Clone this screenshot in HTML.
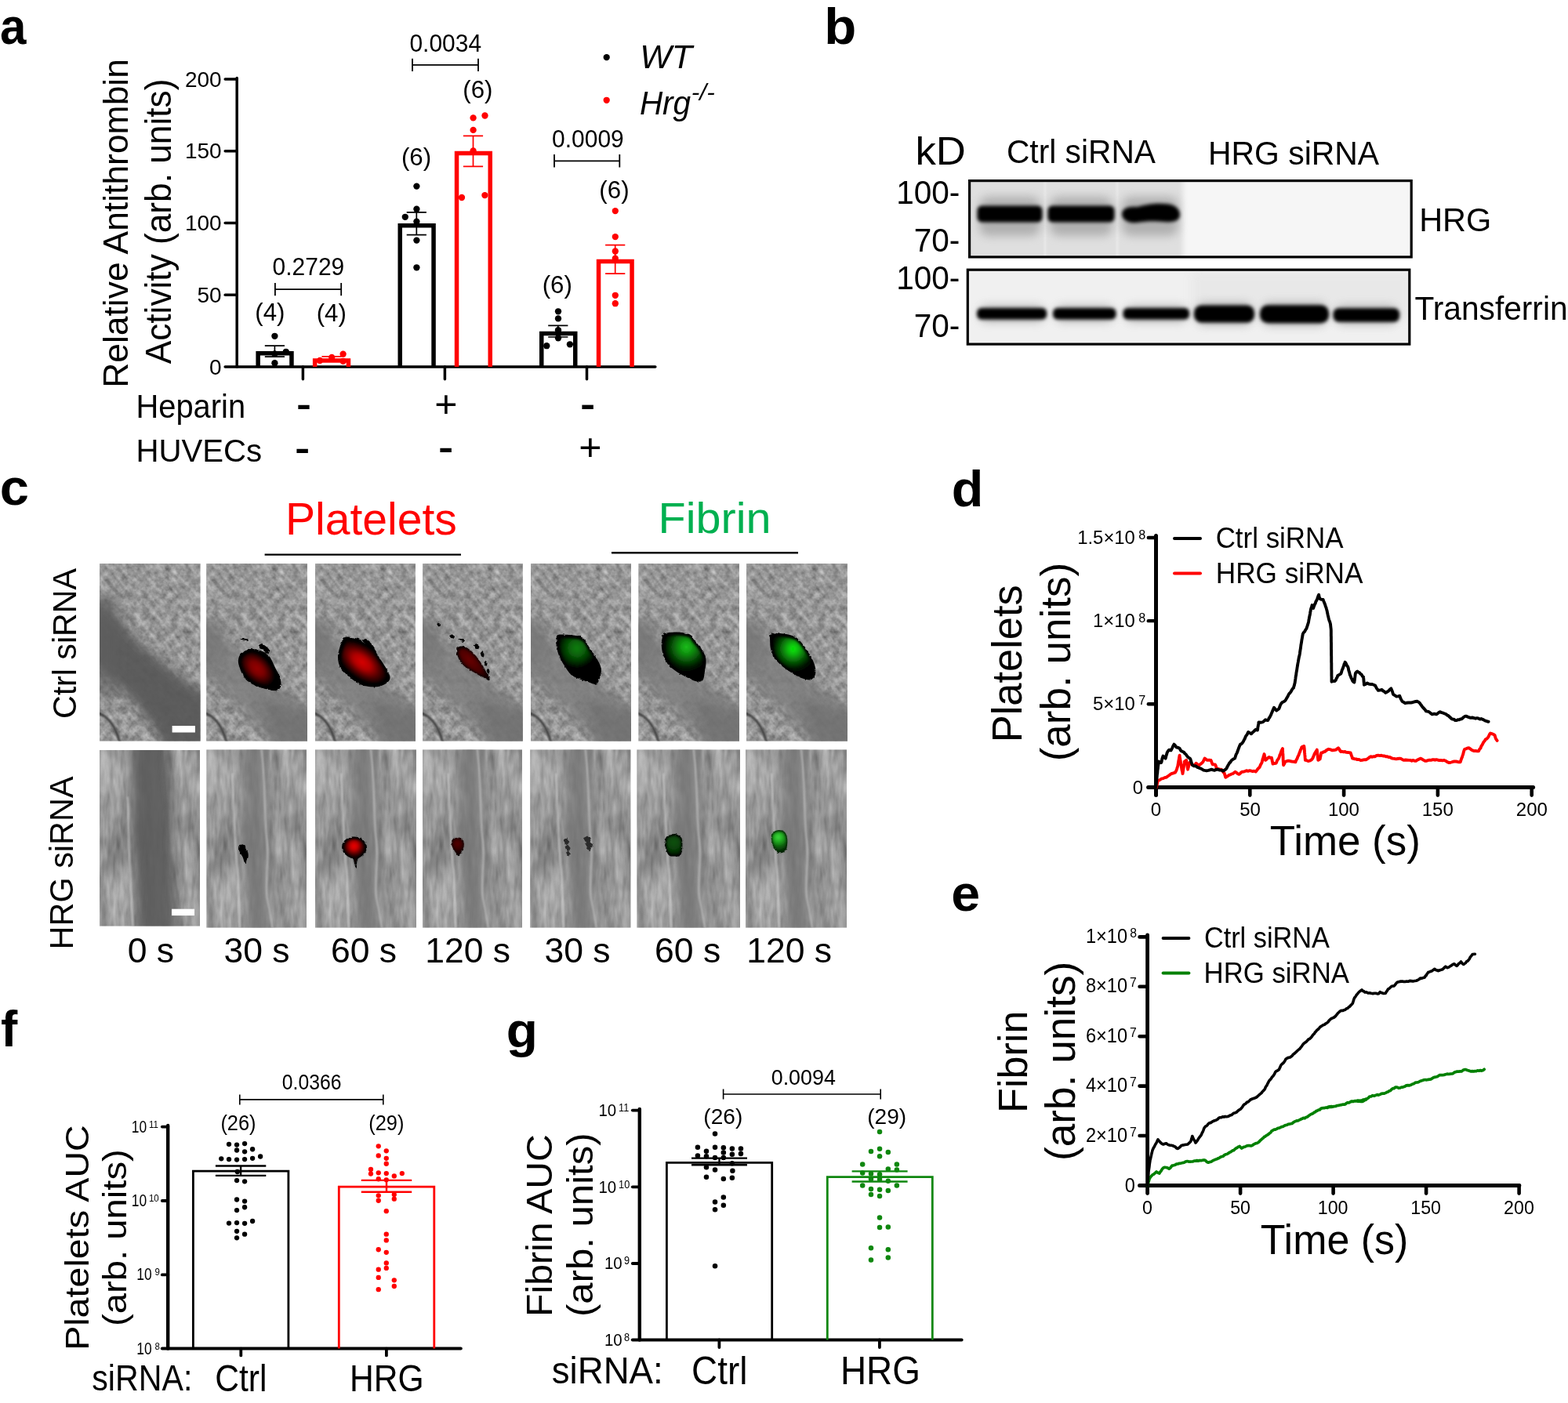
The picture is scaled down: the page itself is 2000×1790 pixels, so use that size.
<!DOCTYPE html>
<html lang="en">
<head>
<meta charset="utf-8">
<title>Figure: HRG regulates antithrombin activity, platelet and fibrin accumulation</title>
<style>
html,body{margin:0;padding:0;background:#fff;}
body{width:2000px;height:1790px;overflow:hidden;}
svg{display:block;}
svg text{font-family:"Liberation Sans",Arial,Helvetica,sans-serif;}
</style>
</head>
<body>
<svg width="2000" height="1790" viewBox="0 0 2000 1790">
<defs>
<clipPath id="clipB1"><rect x="1236.6" y="230.6" width="563.6" height="97.3"/></clipPath>
<clipPath id="clipB2"><rect x="1234.3" y="344.2" width="563.5" height="94.9"/></clipPath>
<filter id="blur1" x="-100%" y="-20%" width="300%" height="140%"><feGaussianBlur stdDeviation="1.2"/></filter>
<filter id="blur25" x="-20%" y="-60%" width="140%" height="220%"><feGaussianBlur stdDeviation="2.3"/></filter>
<filter id="blur3" x="-20%" y="-20%" width="140%" height="140%"><feGaussianBlur stdDeviation="3"/></filter>
<filter id="blur6" x="-20%" y="-80%" width="140%" height="260%"><feGaussianBlur stdDeviation="6"/></filter>
<filter id="nzA" x="0" y="0" width="100%" height="100%" filterUnits="objectBoundingBox" color-interpolation-filters="sRGB"><feTurbulence type="fractalNoise" baseFrequency="0.11" numOctaves="3" seed="7"/><feColorMatrix type="matrix" values="0.56 0 0 0 0.355  0.56 0 0 0 0.355  0.56 0 0 0 0.355  0 0 0 0 1"/></filter>
<filter id="nzAs" x="0" y="0" width="100%" height="100%" filterUnits="objectBoundingBox" color-interpolation-filters="sRGB"><feTurbulence type="fractalNoise" baseFrequency="0.018 0.2" numOctaves="2" seed="11"/><feColorMatrix type="matrix" values="0.9 0 0 0 0.05  0.9 0 0 0 0.05  0.9 0 0 0 0.05  0 0 0 0 1"/></filter>
<filter id="nzB" x="0" y="0" width="100%" height="100%" filterUnits="objectBoundingBox" color-interpolation-filters="sRGB"><feTurbulence type="fractalNoise" baseFrequency="0.075 0.013" numOctaves="3" seed="5"/><feColorMatrix type="matrix" values="0.5 0 0 0 0.385  0.5 0 0 0 0.385  0.5 0 0 0 0.385  0 0 0 0 1"/></filter>
<filter id="nzB2" x="0" y="0" width="100%" height="100%" filterUnits="objectBoundingBox" color-interpolation-filters="sRGB"><feTurbulence type="fractalNoise" baseFrequency="0.045" numOctaves="2" seed="21"/><feColorMatrix type="matrix" values="0.8 0 0 0 0.1  0.8 0 0 0 0.1  0.8 0 0 0 0.1  0 0 0 0 1"/></filter>
<filter id="nzB3" x="0" y="0" width="100%" height="100%" filterUnits="objectBoundingBox" color-interpolation-filters="sRGB"><feTurbulence type="fractalNoise" baseFrequency="0.22 0.05" numOctaves="2" seed="9"/><feColorMatrix type="matrix" values="0.9 0 0 0 0.05  0.9 0 0 0 0.05  0.9 0 0 0 0.05  0 0 0 0 1"/></filter>
<filter id="nzA3" x="0" y="0" width="100%" height="100%" filterUnits="objectBoundingBox" color-interpolation-filters="sRGB"><feTurbulence type="fractalNoise" baseFrequency="0.3" numOctaves="2" seed="4"/><feColorMatrix type="matrix" values="0.9 0 0 0 0.05  0.9 0 0 0 0.05  0.9 0 0 0 0.05  0 0 0 0 1"/></filter>
<filter id="rough" x="-10%" y="-10%" width="120%" height="120%"><feTurbulence type="fractalNoise" baseFrequency="0.35" numOctaves="1" seed="3" result="n"/><feDisplacementMap in="SourceGraphic" in2="n" scale="3.2" xChannelSelector="R" yChannelSelector="G"/><feGaussianBlur stdDeviation="0.55"/></filter>
<filter id="cb8" x="-30%" y="-30%" width="160%" height="160%"><feGaussianBlur stdDeviation="7"/></filter>
<filter id="cb4" x="-30%" y="-30%" width="160%" height="160%"><feGaussianBlur stdDeviation="4"/></filter>
<filter id="cb1" x="-30%" y="-30%" width="160%" height="160%"><feGaussianBlur stdDeviation="0.9"/></filter>
<filter id="cb15" x="-30%" y="-30%" width="160%" height="160%"><feGaussianBlur stdDeviation="1.6"/></filter>
<clipPath id="cImg"><rect x="0" y="0" width="128.5" height="227"/></clipPath>
<radialGradient id="gR1" gradientUnits="userSpaceOnUse" cx="64.5" cy="134" r="19" gradientTransform="translate(64.5 134) rotate(45) scale(1.4 0.85) translate(-64.5 -134)"><stop offset="0" stop-color="#960000"/><stop offset="0.4" stop-color="#7a0000"/><stop offset="0.75" stop-color="#360000"/><stop offset="1" stop-color="#000"/></radialGradient>
<radialGradient id="gR2" gradientUnits="userSpaceOnUse" cx="60" cy="126" r="25" gradientTransform="translate(60 126) rotate(38) scale(1.5 0.8) translate(-60 -126)"><stop offset="0" stop-color="#d80000"/><stop offset="0.35" stop-color="#b00000"/><stop offset="0.7" stop-color="#4c0000"/><stop offset="1" stop-color="#000"/></radialGradient>
<radialGradient id="gR3" gradientUnits="userSpaceOnUse" cx="60" cy="123" r="22" gradientTransform="translate(60 123) rotate(45) scale(1.5 0.6) translate(-60 -123)"><stop offset="0" stop-color="#6a0000"/><stop offset="0.6" stop-color="#440000"/><stop offset="1" stop-color="#080000"/></radialGradient>
<radialGradient id="gR4" gradientUnits="userSpaceOnUse" cx="49.4" cy="123.0" r="13.5"><stop offset="0" stop-color="#f00000"/><stop offset="0.35" stop-color="#c40000"/><stop offset="0.72" stop-color="#540000"/><stop offset="1" stop-color="#0c0000"/></radialGradient>
<radialGradient id="gR5" gradientUnits="userSpaceOnUse" cx="45" cy="120" r="11"><stop offset="0" stop-color="#560000"/><stop offset="0.7" stop-color="#300000"/><stop offset="1" stop-color="#080000"/></radialGradient>
<radialGradient id="gG1" gradientUnits="userSpaceOnUse" cx="59" cy="108" r="30"><stop offset="0" stop-color="#0b7e0b"/><stop offset="0.3" stop-color="#086208"/><stop offset="0.6" stop-color="#033003"/><stop offset="0.85" stop-color="#000"/></radialGradient>
<radialGradient id="gG2" gradientUnits="userSpaceOnUse" cx="61" cy="106.5" r="33"><stop offset="0" stop-color="#1cc01c"/><stop offset="0.28" stop-color="#0f900f"/><stop offset="0.55" stop-color="#075007"/><stop offset="0.82" stop-color="#001000"/><stop offset="1" stop-color="#000"/></radialGradient>
<radialGradient id="gG3" gradientUnits="userSpaceOnUse" cx="59.5" cy="109" r="31"><stop offset="0" stop-color="#04ea04"/><stop offset="0.22" stop-color="#0cba0c"/><stop offset="0.5" stop-color="#076607"/><stop offset="0.8" stop-color="#011401"/><stop offset="1" stop-color="#000"/></radialGradient>
<radialGradient id="gG4" gradientUnits="userSpaceOnUse" cx="46" cy="118" r="17"><stop offset="0" stop-color="#0a520a"/><stop offset="0.6" stop-color="#063a06"/><stop offset="1" stop-color="#001000"/></radialGradient>
<radialGradient id="gG5" gradientUnits="userSpaceOnUse" cx="41.5" cy="111.5" r="17"><stop offset="0" stop-color="#3ee03e"/><stop offset="0.35" stop-color="#20a820"/><stop offset="0.75" stop-color="#0a560a"/><stop offset="1" stop-color="#053005"/></radialGradient>
</defs>
<rect width="2000" height="1790" fill="#fff"/>
<g id="panel-a">
<text transform="translate(0.1 56.45) scale(0.9190 1)" font-size="65.39" font-weight="bold">a</text>
<text transform="translate(162.95 494.87) rotate(-90) scale(0.9836 1)" font-size="45.17">Relative Antithrombin</text>
<text transform="translate(218.39 464.31) rotate(-90) scale(0.9550 1)" font-size="46.33">Activity (arb. units)</text>
<g stroke="#000" fill="none">
<line x1="302.2" y1="99.6" x2="302.2" y2="468" stroke-width="3.5" stroke-linecap="round"/>
<line x1="287.2" y1="468" x2="835.8" y2="468" stroke-width="3.6" stroke-linecap="round"/>
<line x1="287.2" y1="376.27" x2="302.2" y2="376.27" stroke-width="3.5" stroke-linecap="round"/>
<line x1="287.2" y1="284.55" x2="302.2" y2="284.55" stroke-width="3.5" stroke-linecap="round"/>
<line x1="287.2" y1="192.83" x2="302.2" y2="192.83" stroke-width="3.5" stroke-linecap="round"/>
<line x1="287.2" y1="101.1" x2="302.2" y2="101.1" stroke-width="3.5" stroke-linecap="round"/>
<line x1="386.4" y1="468" x2="386.4" y2="483.8" stroke-width="3.5" stroke-linecap="round"/>
<line x1="567.4" y1="468" x2="567.4" y2="483.8" stroke-width="3.5" stroke-linecap="round"/>
<line x1="748.5" y1="468" x2="748.5" y2="483.8" stroke-width="3.5" stroke-linecap="round"/>
<path d="M329.15 468V450.75H371.95V468" fill="none" stroke-width="5.5"/>
<path d="M401.65 468V460.05H444.45V468" fill="none" stroke-width="5.5" stroke="#ff0000"/>
<path d="M510.25 468V287.85H553.05V468" fill="none" stroke-width="5.5"/>
<path d="M582.55 468V195.55H625.25V468" fill="none" stroke-width="5.5" stroke="#ff0000"/>
<path d="M690.75 468V425.55H733.75V468" fill="none" stroke-width="5.5"/>
<path d="M763.55 468V333.45H806.05V468" fill="none" stroke-width="5.5" stroke="#ff0000"/>
<path d="M337.8 441.1H363M337.8 455.2H363M350.4 441.1V455.2" fill="none" stroke-width="1.7"/>
<path d="M410.4 454.9H435.6M410.4 459.6H435.6M423 454.9V459.6" fill="none" stroke-width="1.7" stroke="#ff0000"/>
<path d="M518.7 270.9H543.9M518.7 299.7H543.9M531.3 270.9V299.7" fill="none" stroke-width="1.7"/>
<path d="M590.9 173.3H616.1M590.9 212.3H616.1M603.5 173.3V212.3" fill="none" stroke-width="1.7" stroke="#ff0000"/>
<path d="M699.2 415.4H724.4M699.2 430H724.4M711.8 415.4V430" fill="none" stroke-width="1.7"/>
<path d="M772.1 312.6H797.3M772.1 349.1H797.3M784.7 312.6V349.1" fill="none" stroke-width="1.7" stroke="#ff0000"/>
<path d="M350.9 369.1H435.2M350.9 360.9V377.3M435.2 360.9V377.3" fill="none" stroke-width="1.8"/>
<path d="M526 82.9H610M526 74.7V91.1M610 74.7V91.1" fill="none" stroke-width="1.8"/>
<path d="M707 205.3H790.3M707 197.1V213.5M790.3 197.1V213.5" fill="none" stroke-width="1.8"/>
</g>
<g><circle cx="350.4" cy="428.8" r="4.15"/><circle cx="364.8" cy="448.8" r="4.15"/><circle cx="350.4" cy="463.2" r="4.15"/><circle cx="350.4" cy="451.5" r="4.15"/><circle cx="531.4" cy="237.6" r="4.15"/><circle cx="531.4" cy="266.7" r="4.15"/><circle cx="516.8" cy="276.8" r="4.15"/><circle cx="531.4" cy="282.7" r="4.15"/><circle cx="531.4" cy="306.6" r="4.15"/><circle cx="531.4" cy="341.3" r="4.15"/><circle cx="712" cy="397.3" r="4.15"/><circle cx="712" cy="406.4" r="4.15"/><circle cx="712" cy="421.2" r="4.15"/><circle cx="712" cy="431.3" r="4.15"/><circle cx="697.3" cy="441.2" r="4.15"/><circle cx="726.9" cy="439.3" r="4.15"/><circle cx="773.7" cy="73.1" r="4.15"/></g>
<g fill="#ff0000"><circle cx="437.6" cy="451.7" r="4.15"/><circle cx="423.2" cy="456" r="4.15"/><circle cx="408" cy="460" r="4.15"/><circle cx="437.6" cy="460.8" r="4.15"/><circle cx="603.6" cy="150.4" r="4.15"/><circle cx="618.5" cy="147.5" r="4.15"/><circle cx="603.6" cy="165.9" r="4.15"/><circle cx="603.6" cy="192.5" r="4.15"/><circle cx="589" cy="252" r="4.15"/><circle cx="618.4" cy="249.1" r="4.15"/><circle cx="784.8" cy="269.1" r="4.15"/><circle cx="784.8" cy="302.1" r="4.15"/><circle cx="784.8" cy="320.5" r="4.15"/><circle cx="784.8" cy="329.6" r="4.15"/><circle cx="784.8" cy="376.8" r="4.15"/><circle cx="784.8" cy="387.2" r="4.15"/><circle cx="773.7" cy="127.8" r="4.15"/></g>
<text transform="translate(267.09 477.62) scale(1.0121 1)" font-size="27.7">0</text>
<text transform="translate(251.53 385.9) scale(1.0121 1)" font-size="27.7">50</text>
<text transform="translate(235.9 294.17) scale(1.0121 1)" font-size="27.7">100</text>
<text transform="translate(235.9 202.45) scale(1.0121 1)" font-size="27.7">150</text>
<text transform="translate(235.9 110.72) scale(1.0121 1)" font-size="27.7">200</text>
<text transform="translate(347.61 351.09) scale(0.9637 1)" font-size="31.1">0.2729</text>
<text transform="translate(522.4 65.89) scale(0.9637 1)" font-size="31.1">0.0034</text>
<text transform="translate(704.11 188.09) scale(0.9637 1)" font-size="31.1">0.0009</text>
<text transform="translate(325.3 409.44) scale(1.0190 1)" font-size="30.67">(4)</text>
<text transform="translate(403.7 410.24) scale(1.0190 1)" font-size="30.67">(4)</text>
<text transform="translate(511.95 211.04) scale(1.0190 1)" font-size="30.67">(6)</text>
<text transform="translate(590.25 125.14) scale(1.0190 1)" font-size="30.67">(6)</text>
<text transform="translate(691.7 374.24) scale(1.0190 1)" font-size="30.67">(6)</text>
<text transform="translate(764.35 253.14) scale(1.0190 1)" font-size="30.67">(6)</text>
<text transform="translate(816.24 87.2) scale(1.0077 1)" font-size="42.62" font-style="italic">WT</text>
<text transform="translate(815.88 146.4) scale(0.9409 1)" font-size="43.05" font-style="italic">Hrg</text>
<text transform="translate(881.84 127.7) scale(1.0505 1)" font-size="30.07" font-style="italic">-/-</text>
<text transform="translate(173.51 532.8) scale(0.9513 1)" font-size="41.89">Heparin</text>
<text transform="translate(173.49 588.69) scale(0.9769 1)" font-size="41.13">HUVECs</text>
<text transform="translate(377.86 537.37) scale(0.8898 1)" font-size="65.81">-</text>
<text transform="translate(375.73 592.57) scale(0.9024 1)" font-size="65.81">-</text>
<text transform="translate(558.63 592.47) scale(0.9024 1)" font-size="65.81">-</text>
<text transform="translate(739.73 538.06) scale(0.8683 1)" font-size="68.39">-</text>
<text transform="translate(554.29 531.59) scale(1.0229 1)" font-size="48.98">+</text>
<text transform="translate(738.29 586.59) scale(1.0229 1)" font-size="48.98">+</text>
</g>
<g id="panel-b">
<text transform="translate(1051.34 56.15) scale(1.0387 1)" font-size="64.63" font-weight="bold">b</text>
<text transform="translate(1167.44 209.6) scale(1.0445 1)" font-size="50.48">kD</text>
<text transform="translate(1283.96 207.97) scale(0.9481 1)" font-size="42.97">Ctrl siRNA</text>
<text transform="translate(1541.03 210.17) scale(0.9576 1)" font-size="42.69">HRG siRNA</text>
<text transform="translate(1143.16 260.18) scale(0.9688 1)" font-size="41.84">100-</text>
<text transform="translate(1165.66 321.38) scale(0.9688 1)" font-size="41.84">70-</text>
<text transform="translate(1143.16 369.18) scale(0.9688 1)" font-size="41.84">100-</text>
<text transform="translate(1165.66 430.18) scale(0.9688 1)" font-size="41.84">70-</text>
<text transform="translate(1810.18 295.27) scale(0.9743 1)" font-size="42.54">HRG</text>
<text transform="translate(1804.38 408) scale(0.9458 1)" font-size="43.05">Transferrin</text>
<g clip-path="url(#clipB1)">
<rect x="1235" y="229" width="568" height="101" fill="#f6f6f6"/>
<rect x="1228" y="225" width="281" height="110" fill="#dfdfdf" filter="url(#blur3)"/>
<rect x="1331.5" y="229" width="3" height="101" fill="#f4f4f4" opacity="0.45" filter="url(#blur1)"/>
<rect x="1423.5" y="229" width="3.5" height="101" fill="#f4f4f4" opacity="0.45" filter="url(#blur1)"/>
<rect x="1249" y="251" width="78" height="50" rx="12" fill="#8a8a8a" opacity="0.55" filter="url(#blur6)"/>
<rect x="1339" y="251" width="80" height="50" rx="12" fill="#8a8a8a" opacity="0.55" filter="url(#blur6)"/>
<rect x="1431" y="251" width="72" height="50" rx="12" fill="#8a8a8a" opacity="0.55" filter="url(#blur6)"/>
<rect x="1246.5" y="262.5" width="83" height="21" rx="6" fill="#000" filter="url(#blur25)"/>
<rect x="1336.5" y="262.5" width="85" height="21" rx="6" fill="#000" filter="url(#blur25)"/>
<path d="M1431 273C1431 266 1440 263 1450 264C1460 262 1470 259 1484 260C1498 260 1505 266 1505 274C1505 281 1498 284 1486 283C1472 282 1462 282 1450 284C1440 285 1431 281 1431 273Z" fill="#000" filter="url(#blur25)"/>
</g>
<rect x="1236.6" y="230.6" width="563.6" height="97.3" fill="none" stroke="#000" stroke-width="3.2"/>
<g clip-path="url(#clipB2)">
<rect x="1232" y="342" width="568" height="100" fill="#f0f0f0"/>
<rect x="1520" y="346" width="280" height="60" fill="#e6e6e6" opacity="0.8" filter="url(#blur6)"/>
<rect x="1249.6" y="390.05" width="82" height="20.5" rx="9" fill="#777" opacity="0.5" filter="url(#blur6)"/>
<rect x="1346.6" y="390.05" width="73.4" height="20.5" rx="9" fill="#777" opacity="0.5" filter="url(#blur6)"/>
<rect x="1436" y="390.05" width="77.5" height="20.5" rx="9" fill="#777" opacity="0.5" filter="url(#blur6)"/>
<rect x="1526.5" y="386.5" width="70" height="28" rx="9" fill="#777" opacity="0.5" filter="url(#blur6)"/>
<rect x="1610.5" y="386.3" width="81" height="29" rx="9" fill="#777" opacity="0.5" filter="url(#blur6)"/>
<rect x="1704" y="390.25" width="77.6" height="23.5" rx="9" fill="#777" opacity="0.5" filter="url(#blur6)"/>
<rect x="1246.1" y="393.05" width="89" height="14.5" rx="5.75" fill="#000" filter="url(#blur25)"/>
<rect x="1343.1" y="393.05" width="80.4" height="14.5" rx="5.75" fill="#000" filter="url(#blur25)"/>
<rect x="1432.5" y="393.05" width="84.5" height="14.5" rx="5.75" fill="#000" filter="url(#blur25)"/>
<rect x="1523" y="389.5" width="77" height="22" rx="9.5" fill="#000" filter="url(#blur25)"/>
<rect x="1607" y="389.3" width="88" height="23" rx="10" fill="#000" filter="url(#blur25)"/>
<rect x="1700.5" y="393.25" width="84.6" height="17.5" rx="7.25" fill="#000" filter="url(#blur25)"/>
</g>
<rect x="1234.3" y="344.2" width="563.5" height="94.9" fill="none" stroke="#000" stroke-width="3.2"/>
</g>
<g id="panel-c">
<text transform="translate(-0.27 644.35) scale(1.0342 1)" font-size="64.66" font-weight="bold">c</text>
<text x="363.9" y="682.4" font-size="57.1" fill="#ff0000">Platelets</text>
<text transform="translate(839.55 680.24) scale(1.0268 1)" font-size="56.05" fill="#00b050">Fibrin</text>
<g stroke="#000"><line x1="337.6" y1="707.6" x2="588" y2="707.6" stroke-width="2.4"/><line x1="780" y1="705.2" x2="1018" y2="705.2" stroke-width="2.4"/></g>
<text transform="translate(96.58 917.06) rotate(-90) scale(0.9761 1)" font-size="42.18">Ctrl siRNA</text>
<text transform="translate(92.78 1211.42) rotate(-90) scale(0.9823 1)" font-size="42.18">HRG siRNA</text>
<text transform="translate(162.69 1227.55) scale(0.9837 1)" font-size="45.23">0 s</text>
<text transform="translate(285.4 1227.55) scale(0.9837 1)" font-size="45.23">30 s</text>
<text transform="translate(421.92 1227.55) scale(0.9837 1)" font-size="45.23">60 s</text>
<text transform="translate(542.16 1227.55) scale(0.9837 1)" font-size="45.23">120 s</text>
<text transform="translate(694.4 1227.55) scale(0.9837 1)" font-size="45.23">30 s</text>
<text transform="translate(835.12 1227.55) scale(0.9837 1)" font-size="45.23">60 s</text>
<text transform="translate(952.16 1227.55) scale(0.9837 1)" font-size="45.23">120 s</text>
<g transform="translate(127 719.1) scale(1.0000 0.9978)" clip-path="url(#cImg)">
<rect width="128.5" height="227" fill="#a5a5a5" filter="url(#nzA)"/>
<rect width="128.5" height="227" fill="#a5a5a5" filter="url(#nzA3)" opacity="0.12"/>
<g transform="rotate(50 64 113)" opacity="0.22"><rect x="-100" y="-60" width="330" height="350" fill="#888" filter="url(#nzAs)"/></g>
<path d="M-30 42L0 49L26 73L50 101L77 124L105 146L160 180V270H92L72 214L49 184L26 160L0 134L-30 116Z" fill="#595959" opacity="0.93" filter="url(#cb8)"/>
<path d="M-20 40H24V170H-20Z" fill="#5e5e5e" opacity="0.6" filter="url(#cb8)"/>
<path d="M-5 190C10 194 21 206 27 234" fill="none" stroke="#333" stroke-width="3.2" opacity="0.85" filter="url(#cb1)"/>
</g>
<g transform="translate(263.2 719.1) scale(1.0023 0.9978)" clip-path="url(#cImg)">
<rect width="128.5" height="227" fill="#a5a5a5" filter="url(#nzA)"/>
<rect width="128.5" height="227" fill="#a5a5a5" filter="url(#nzA3)" opacity="0.12"/>
<g transform="rotate(50 64 113)" opacity="0.22"><rect x="-100" y="-60" width="330" height="350" fill="#888" filter="url(#nzAs)"/></g>
<path d="M-30 62L0 70L22 92L50 120L77 144L105 166L160 200V270H106L77 222L49 192L28 172L0 146L-30 126Z" fill="#7a7a7a" opacity="0.78" filter="url(#cb8)"/>
<path d="M70 175L140 190V260H95Z" fill="#6a6a6a" opacity="0.55" filter="url(#cb8)"/>
<path d="M-20 70H20V125H-20Z" fill="#747474" opacity="0.5" filter="url(#cb8)"/>
<path d="M-5 190C10 194 21 206 27 234" fill="none" stroke="#333" stroke-width="3.2" opacity="0.85" filter="url(#cb1)"/>
<path d="M58.5 109.2C62.9 109.1 68.8 111.0 72.5 112.7C76.2 114.5 78.3 116.2 80.9 119.7C83.5 123.2 85.8 129.5 87.9 133.7C90.0 137.9 92.3 141.2 93.5 144.9C94.7 148.6 95.6 153.2 94.9 156.1C94.2 159.0 92.6 161.7 89.3 162.4C86.0 163.1 80.2 161.6 75.3 160.3C70.4 159.0 64.3 157.0 59.9 154.7C55.5 152.4 51.7 150.3 48.7 146.3C45.7 142.3 43.0 135.1 41.7 130.9C40.4 126.7 40.3 124.0 41.0 121.1C41.7 118.2 43.0 115.4 45.9 113.4C48.8 111.4 54.1 109.3 58.5 109.2Z" fill="#000" filter="url(#rough)"/>
<path d="M60.1 113.5C63.8 113.4 68.7 114.9 71.9 116.4C75.0 117.9 76.8 119.3 78.9 122.3C81.1 125.2 83.0 130.5 84.8 134.0C86.6 137.6 88.5 140.3 89.5 143.4C90.5 146.6 91.3 150.4 90.7 152.9C90.1 155.3 88.7 157.6 86.0 158.1C83.2 158.7 78.3 157.5 74.2 156.4C70.1 155.3 65.0 153.6 61.3 151.7C57.5 149.7 54.4 148.0 51.9 144.6C49.3 141.3 47.1 135.2 46.0 131.7C44.9 128.2 44.8 125.9 45.4 123.5C46.0 121.0 47.1 118.7 49.5 117.0C52.0 115.3 56.4 113.6 60.1 113.5Z" fill="url(#gR1)" filter="url(#cb15)"/>
<path d="M43.0 96.0L48.5 94.5L54.0 97.0L51.8 99.4L45.8 98.4ZM65.5 104.4L70.8 102.0L76.0 106.0L73.9 110.0L68.1 108.4ZM72.0 108.8L76.5 106.0L81.0 110.8L79.2 115.5L74.2 113.6Z" fill="#050505" filter="url(#rough)"/>
</g>
<g transform="translate(402 719.1) scale(0.9961 0.9978)" clip-path="url(#cImg)">
<rect width="128.5" height="227" fill="#a5a5a5" filter="url(#nzA)"/>
<rect width="128.5" height="227" fill="#a5a5a5" filter="url(#nzA3)" opacity="0.12"/>
<g transform="rotate(50 64 113)" opacity="0.22"><rect x="-100" y="-60" width="330" height="350" fill="#888" filter="url(#nzAs)"/></g>
<path d="M-30 62L0 70L22 92L50 120L77 144L105 166L160 200V270H106L77 222L49 192L28 172L0 146L-30 126Z" fill="#7a7a7a" opacity="0.78" filter="url(#cb8)"/>
<path d="M70 175L140 190V260H95Z" fill="#6a6a6a" opacity="0.55" filter="url(#cb8)"/>
<path d="M-20 70H20V125H-20Z" fill="#747474" opacity="0.5" filter="url(#cb8)"/>
<path d="M-5 190C10 194 21 206 27 234" fill="none" stroke="#333" stroke-width="3.2" opacity="0.85" filter="url(#cb1)"/>
<path d="M39.2 93.8C42.5 93.3 50.6 94.6 54.6 95.9C58.6 97.2 60.7 100.9 63.0 101.5C65.3 102.1 66.5 98.5 68.6 99.4C70.7 100.3 74.0 104.6 75.6 107.1C77.2 109.5 76.8 111.1 78.4 114.1C80.0 117.1 83.1 121.6 85.4 125.3C87.7 129.0 90.7 133.0 92.4 136.5C94.2 140.0 96.1 143.5 95.9 146.3C95.7 149.1 93.7 151.4 91.0 153.3C88.3 155.2 84.0 156.9 79.8 157.5C75.6 158.1 70.2 157.7 65.8 156.8C61.4 155.9 57.4 154.4 53.2 151.9C49.0 149.4 44.1 145.1 40.6 142.1C37.1 139.1 34.1 137.4 32.2 133.7C30.3 130.0 29.2 124.1 29.1 119.7C29.0 115.3 30.5 110.6 31.5 107.1C32.5 103.6 33.7 100.9 35.0 98.7C36.3 96.5 35.9 94.3 39.2 93.8Z" fill="#000" filter="url(#rough)"/>
<path d="M42.6 98.4C45.4 98.0 52.3 99.1 55.7 100.2C59.0 101.3 60.8 104.5 62.8 104.9C64.8 105.4 65.8 102.4 67.6 103.2C69.4 104.0 72.1 107.6 73.5 109.7C74.9 111.8 74.5 113.1 75.9 115.7C77.3 118.2 79.9 122.0 81.9 125.2C83.8 128.4 86.3 131.7 87.8 134.7C89.3 137.7 91.0 140.6 90.8 143.0C90.6 145.4 88.9 147.4 86.6 149.0C84.3 150.6 80.7 152.1 77.1 152.5C73.5 153.0 69.0 152.7 65.2 152.0C61.4 151.2 58.1 149.9 54.5 147.8C50.9 145.7 46.7 142.0 43.8 139.5C40.8 136.9 38.3 135.5 36.6 132.3C35.0 129.1 34.1 124.2 34.0 120.4C33.9 116.6 35.2 112.7 36.0 109.7C36.9 106.7 37.9 104.5 39.0 102.6C40.1 100.7 39.8 98.8 42.6 98.4Z" fill="url(#gR2)" filter="url(#cb15)"/>
<path d="M60.0 98.1L65.0 96.0L70.0 99.5L68.0 103.0L62.5 101.6Z" fill="#050505" filter="url(#rough)"/>
</g>
<g transform="translate(539.1 719.1) scale(0.9938 0.9978)" clip-path="url(#cImg)">
<rect width="128.5" height="227" fill="#a5a5a5" filter="url(#nzA)"/>
<rect width="128.5" height="227" fill="#a5a5a5" filter="url(#nzA3)" opacity="0.12"/>
<g transform="rotate(50 64 113)" opacity="0.22"><rect x="-100" y="-60" width="330" height="350" fill="#888" filter="url(#nzAs)"/></g>
<path d="M-30 62L0 70L22 92L50 120L77 144L105 166L160 200V270H106L77 222L49 192L28 172L0 146L-30 126Z" fill="#7a7a7a" opacity="0.78" filter="url(#cb8)"/>
<path d="M70 175L140 190V260H95Z" fill="#6a6a6a" opacity="0.55" filter="url(#cb8)"/>
<path d="M-20 70H20V125H-20Z" fill="#747474" opacity="0.5" filter="url(#cb8)"/>
<path d="M-5 190C10 194 21 206 27 234" fill="none" stroke="#333" stroke-width="3.2" opacity="0.85" filter="url(#cb1)"/>
<path d="M44.8 107.1C46.2 105.9 49.2 105.2 51.8 105.7C54.4 106.2 57.4 107.8 60.2 109.9C63.0 112.0 66.0 115.3 68.6 118.3C71.2 121.3 73.5 124.8 75.6 128.1C77.7 131.4 79.6 135.1 81.2 137.9C82.8 140.7 84.7 142.9 85.4 144.9C86.1 146.9 86.3 149.6 85.4 149.8C84.5 150.0 82.1 147.6 79.8 146.3C77.5 145.0 74.4 143.7 71.4 142.1C68.4 140.5 64.9 138.6 61.6 136.5C58.3 134.4 54.4 132.1 51.8 129.5C49.2 126.9 47.6 123.9 46.2 121.1C44.8 118.3 43.6 115.0 43.4 112.7C43.2 110.4 43.4 108.3 44.8 107.1Z" fill="#0a0000" filter="url(#rough)"/>
<path d="M47.6 110.0C48.8 109.0 51.4 108.4 53.6 108.8C55.8 109.2 58.4 110.6 60.8 112.4C63.3 114.2 65.9 117.0 68.1 119.6C70.3 122.2 72.3 125.3 74.1 128.1C75.9 130.9 77.5 134.1 78.9 136.5C80.3 138.9 81.9 140.8 82.5 142.5C83.1 144.2 83.3 146.5 82.5 146.7C81.7 146.9 79.7 144.8 77.7 143.7C75.7 142.6 73.1 141.5 70.5 140.1C67.9 138.7 64.9 137.1 62.0 135.3C59.2 133.5 55.8 131.5 53.6 129.3C51.4 127.1 50.0 124.5 48.8 122.0C47.6 119.6 46.6 116.8 46.4 114.8C46.2 112.8 46.4 111.0 47.6 110.0Z" fill="url(#gR3)" filter="url(#cb15)"/>
<path d="M18.2 77.1L20.6 75.6L23.1 78.0L22.1 80.5L19.4 79.5ZM34.3 92.0L37.8 90.3L41.3 93.1L39.9 95.9L36.0 94.8ZM45.5 96.7L50.0 95.2L54.6 97.7L52.8 100.1L47.8 99.1ZM65.1 104.5L68.9 102.2L72.8 106.1L71.3 109.9L67.0 108.4ZM74.0 114.4L76.5 112.0L79.0 116.0L78.0 120.0L75.2 118.4ZM79.0 126.1L81.0 124.0L83.0 127.5L82.2 131.0L80.0 129.6ZM82.0 136.1L84.0 134.0L86.0 137.5L85.2 141.0L83.0 139.6Z" fill="#050505" filter="url(#rough)"/>
</g>
<g transform="translate(677 719.1) scale(0.9961 0.9978)" clip-path="url(#cImg)">
<rect width="128.5" height="227" fill="#a5a5a5" filter="url(#nzA)"/>
<rect width="128.5" height="227" fill="#a5a5a5" filter="url(#nzA3)" opacity="0.12"/>
<g transform="rotate(50 64 113)" opacity="0.22"><rect x="-100" y="-60" width="330" height="350" fill="#888" filter="url(#nzAs)"/></g>
<path d="M-30 62L0 70L22 92L50 120L77 144L105 166L160 200V270H106L77 222L49 192L28 172L0 146L-30 126Z" fill="#7a7a7a" opacity="0.78" filter="url(#cb8)"/>
<path d="M70 175L140 190V260H95Z" fill="#6a6a6a" opacity="0.55" filter="url(#cb8)"/>
<path d="M-20 70H20V125H-20Z" fill="#747474" opacity="0.5" filter="url(#cb8)"/>
<path d="M-5 190C10 194 21 206 27 234" fill="none" stroke="#333" stroke-width="3.2" opacity="0.85" filter="url(#cb1)"/>
<path d="M35.0 91.0C37.7 90.2 44.3 90.7 49.0 91.0C53.7 91.3 59.5 91.8 63.0 93.1C66.5 94.4 67.9 96.1 70.0 98.7C72.1 101.3 73.5 105.2 75.6 108.5C77.7 111.8 80.5 115.0 82.6 118.3C84.7 121.6 86.9 125.1 88.2 128.1C89.5 131.1 90.3 133.5 90.3 136.5C90.3 139.5 89.2 143.3 88.2 146.3C87.2 149.3 86.1 153.8 84.0 154.7C81.9 155.6 79.1 153.1 75.6 151.9C72.1 150.7 67.0 149.3 63.0 147.7C59.0 146.1 55.1 144.9 51.8 142.1C48.5 139.3 46.0 134.9 43.4 130.9C40.8 126.9 38.1 122.5 36.4 118.3C34.6 114.1 33.5 109.4 32.9 105.7C32.3 102.0 32.5 98.4 32.9 95.9C33.2 93.5 32.3 91.8 35.0 91.0Z" fill="#000" filter="url(#rough)"/>
<path d="M39.1 95.5C41.4 94.8 47.1 95.2 51.0 95.5C55.0 95.8 59.9 96.2 62.9 97.3C65.9 98.4 67.1 99.9 68.9 102.1C70.7 104.2 71.8 107.6 73.6 110.4C75.4 113.2 77.8 115.9 79.6 118.7C81.4 121.5 83.2 124.5 84.3 127.0C85.4 129.6 86.1 131.6 86.1 134.2C86.1 136.8 85.2 139.9 84.3 142.5C83.4 145.1 82.6 148.9 80.8 149.7C79.0 150.5 76.6 148.3 73.6 147.3C70.7 146.3 66.3 145.1 62.9 143.7C59.5 142.3 56.2 141.3 53.4 138.9C50.6 136.6 48.4 132.8 46.3 129.4C44.1 126.1 41.8 122.3 40.3 118.7C38.8 115.2 37.8 111.2 37.3 108.0C36.8 104.8 37.0 101.8 37.3 99.7C37.6 97.6 36.8 96.2 39.1 95.5Z" fill="url(#gG1)" filter="url(#cb15)"/>
</g>
<g transform="translate(814.4 719.1) scale(1.0008 0.9978)" clip-path="url(#cImg)">
<rect width="128.5" height="227" fill="#a5a5a5" filter="url(#nzA)"/>
<rect width="128.5" height="227" fill="#a5a5a5" filter="url(#nzA3)" opacity="0.12"/>
<g transform="rotate(50 64 113)" opacity="0.22"><rect x="-100" y="-60" width="330" height="350" fill="#888" filter="url(#nzAs)"/></g>
<path d="M-30 62L0 70L22 92L50 120L77 144L105 166L160 200V270H106L77 222L49 192L28 172L0 146L-30 126Z" fill="#7a7a7a" opacity="0.78" filter="url(#cb8)"/>
<path d="M70 175L140 190V260H95Z" fill="#6a6a6a" opacity="0.55" filter="url(#cb8)"/>
<path d="M-20 70H20V125H-20Z" fill="#747474" opacity="0.5" filter="url(#cb8)"/>
<path d="M-5 190C10 194 21 206 27 234" fill="none" stroke="#333" stroke-width="3.2" opacity="0.85" filter="url(#cb1)"/>
<path d="M32.9 89.6C35.9 88.2 42.9 87.4 48.3 87.5C53.7 87.6 61.4 88.7 65.1 90.3C68.8 91.9 68.6 94.7 70.7 97.3C72.8 99.9 75.6 102.9 77.7 105.7C79.8 108.5 81.9 111.1 83.3 114.1C84.7 117.1 85.9 120.2 86.1 123.9C86.3 127.6 85.4 132.3 84.7 136.5C84.0 140.7 83.8 146.8 81.9 149.1C80.0 151.4 77.0 151.2 73.5 150.5C70.0 149.8 65.1 147.0 60.9 144.9C56.7 142.8 52.3 140.7 48.3 137.9C44.3 135.1 39.9 131.6 37.1 128.1C34.3 124.6 32.8 120.6 31.5 116.9C30.2 113.2 29.6 109.2 29.4 105.7C29.2 102.2 29.5 98.6 30.1 95.9C30.7 93.2 29.9 91.0 32.9 89.6Z" fill="#000" filter="url(#rough)"/>
<path d="M36.8 93.7C39.4 92.5 45.3 91.8 49.9 91.9C54.4 92.0 61.0 92.9 64.2 94.3C67.3 95.7 67.1 98.1 68.9 100.3C70.7 102.5 73.1 105.0 74.9 107.4C76.7 109.8 78.4 112.0 79.6 114.6C80.8 117.1 81.8 119.7 82.0 122.9C82.2 126.1 81.4 130.0 80.8 133.6C80.2 137.2 80.0 142.3 78.4 144.3C76.9 146.3 74.3 146.1 71.3 145.5C68.3 144.9 64.2 142.5 60.6 140.7C57.0 138.9 53.3 137.2 49.9 134.8C46.5 132.4 42.7 129.4 40.4 126.5C38.0 123.5 36.7 120.1 35.6 116.9C34.5 113.8 34.0 110.4 33.8 107.4C33.6 104.4 33.9 101.4 34.4 99.1C34.9 96.8 34.2 94.9 36.8 93.7Z" fill="url(#gG2)" filter="url(#cb15)"/>
</g>
<g transform="translate(952 719.1) scale(1.0031 0.9978)" clip-path="url(#cImg)">
<rect width="128.5" height="227" fill="#a5a5a5" filter="url(#nzA)"/>
<rect width="128.5" height="227" fill="#a5a5a5" filter="url(#nzA3)" opacity="0.12"/>
<g transform="rotate(50 64 113)" opacity="0.22"><rect x="-100" y="-60" width="330" height="350" fill="#888" filter="url(#nzAs)"/></g>
<path d="M-30 62L0 70L22 92L50 120L77 144L105 166L160 200V270H106L77 222L49 192L28 172L0 146L-30 126Z" fill="#7a7a7a" opacity="0.78" filter="url(#cb8)"/>
<path d="M70 175L140 190V260H95Z" fill="#6a6a6a" opacity="0.55" filter="url(#cb8)"/>
<path d="M-20 70H20V125H-20Z" fill="#747474" opacity="0.5" filter="url(#cb8)"/>
<path d="M-5 190C10 194 21 206 27 234" fill="none" stroke="#333" stroke-width="3.2" opacity="0.85" filter="url(#cb1)"/>
<path d="M31.5 90.3C34.3 88.5 42.0 89.1 46.9 89.6C51.8 90.1 57.2 91.3 60.9 93.1C64.6 94.8 66.7 97.3 69.3 100.1C71.9 102.9 74.0 106.4 76.3 109.9C78.6 113.4 81.4 117.4 83.3 121.1C85.2 124.8 86.8 128.8 87.5 132.3C88.2 135.8 88.4 139.4 87.5 142.1C86.6 144.8 84.5 147.6 81.9 148.4C79.3 149.2 75.8 148.3 72.1 147.0C68.4 145.7 63.7 143.1 59.5 140.7C55.3 138.2 50.6 135.3 46.9 132.3C43.2 129.3 39.7 126.0 37.1 122.5C34.5 119.0 32.7 115.0 31.5 111.3C30.3 107.6 30.1 103.6 30.1 100.1C30.1 96.6 28.7 92.0 31.5 90.3Z" fill="#000" filter="url(#rough)"/>
<path d="M35.8 94.6C38.2 93.1 44.7 93.6 48.9 94.0C53.1 94.4 57.6 95.5 60.8 96.9C64.0 98.4 65.7 100.5 67.9 102.9C70.1 105.3 71.9 108.2 73.9 111.2C75.9 114.2 78.2 117.6 79.8 120.7C81.4 123.9 82.8 127.3 83.4 130.3C84.0 133.2 84.2 136.3 83.4 138.6C82.6 140.9 80.8 143.3 78.6 143.9C76.5 144.6 73.5 143.8 70.3 142.8C67.1 141.7 63.2 139.5 59.6 137.4C56.0 135.3 52.1 132.8 48.9 130.3C45.7 127.7 42.7 124.9 40.6 121.9C38.4 119.0 36.8 115.6 35.8 112.4C34.8 109.2 34.6 105.9 34.6 102.9C34.6 99.9 33.4 96.1 35.8 94.6Z" fill="url(#gG3)" filter="url(#cb15)"/>
</g>
<rect x="219.6" y="926" width="29.3" height="8.5" fill="#fff"/>
<g transform="translate(127 957) scale(0.9961 0.9894)" clip-path="url(#cImg)">
<rect width="128.5" height="227" fill="#a5a5a5" filter="url(#nzB)"/>
<rect width="128.5" height="227" fill="#a5a5a5" filter="url(#nzB2)" opacity="0.18"/>
<rect width="128.5" height="227" fill="#a5a5a5" filter="url(#nzB3)" opacity="0.16"/>
<path d="M42 -20H86L92 70L98 250H48L42 110Z" fill="#5a5a5a" opacity="0.9" filter="url(#cb8)"/>
<path d="M36 60C37 120 40 180 43 232" fill="none" stroke="#d8d8d8" stroke-width="2.2" opacity="0.6" filter="url(#cb1)"/>
<path d="M80 -5C84 40 86 90 90 130C96 170 104 200 106 232" fill="none" stroke="#555" stroke-width="1.6" opacity="0.4" filter="url(#cb1)"/>
</g>
<g transform="translate(263.4 956.4) scale(0.9930 1.0009)" clip-path="url(#cImg)">
<rect width="128.5" height="227" fill="#a5a5a5" filter="url(#nzB)"/>
<rect width="128.5" height="227" fill="#a5a5a5" filter="url(#nzB2)" opacity="0.18"/>
<rect width="128.5" height="227" fill="#a5a5a5" filter="url(#nzB3)" opacity="0.16"/>
<path d="M48 -20H78L80 80L84 250H52L46 110Z" fill="#747474" opacity="0.78" filter="url(#cb8)"/>
<path d="M33 30C34 80 38 130 40 160C42 190 42 210 43 232" fill="none" stroke="#e0e0e0" stroke-width="2.2" opacity="0.6" filter="url(#cb1)"/>
<path d="M70 -5C76 40 74 80 77 110C82 140 74 165 78 190C82 210 84 220 85 232" fill="none" stroke="#e0e0e0" stroke-width="2" opacity="0.55" filter="url(#cb1)"/>
<path d="M45.0 120.8C46.2 120.8 48.6 121.0 49.5 122.0C50.4 123.0 49.9 125.5 50.5 127.0C51.1 128.5 52.7 129.3 53.2 131.0C53.7 132.7 53.9 135.3 53.6 137.0C53.3 138.7 52.0 139.5 51.5 141.0C51.0 142.5 51.0 145.7 50.5 146.0C50.0 146.3 49.2 144.5 48.5 143.0C47.8 141.5 47.3 138.8 46.5 137.0C45.7 135.2 44.4 133.8 43.5 132.0C42.6 130.2 41.2 127.7 41.0 126.0C40.8 124.3 41.3 122.9 42.0 122.0C42.7 121.1 43.8 120.8 45.0 120.8Z" fill="#050505" filter="url(#rough)"/>
</g>
<g transform="translate(402 956.5) scale(1.0039 1.0004)" clip-path="url(#cImg)">
<rect width="128.5" height="227" fill="#a5a5a5" filter="url(#nzB)"/>
<rect width="128.5" height="227" fill="#a5a5a5" filter="url(#nzB2)" opacity="0.18"/>
<rect width="128.5" height="227" fill="#a5a5a5" filter="url(#nzB3)" opacity="0.16"/>
<path d="M48 -20H78L80 80L84 250H52L46 110Z" fill="#747474" opacity="0.78" filter="url(#cb8)"/>
<path d="M33 30C34 80 38 130 40 160C42 190 42 210 43 232" fill="none" stroke="#e0e0e0" stroke-width="2.2" opacity="0.6" filter="url(#cb1)"/>
<path d="M70 -5C76 40 74 80 77 110C82 140 74 165 78 190C82 210 84 220 85 232" fill="none" stroke="#e0e0e0" stroke-width="2" opacity="0.55" filter="url(#cb1)"/>
<path d="M49.8 111.0C52.5 111.1 55.6 111.7 58.0 113.0C60.4 114.3 62.7 117.0 64.0 119.0C65.3 121.0 65.7 122.9 65.6 125.0C65.5 127.1 64.8 129.6 63.5 131.5C62.2 133.4 59.6 135.2 58.0 136.5C56.4 137.8 54.9 137.9 54.0 139.5C53.1 141.1 52.9 144.2 52.5 146.0C52.1 147.8 52.0 150.5 51.6 150.5C51.2 150.5 50.5 147.8 50.0 146.0C49.5 144.2 49.8 141.1 48.5 139.5C47.2 137.9 44.1 137.9 42.0 136.5C39.9 135.1 37.3 133.0 36.0 131.0C34.7 129.0 34.0 126.8 34.0 124.5C34.0 122.2 34.7 119.5 36.0 117.5C37.3 115.5 39.7 113.6 42.0 112.5C44.3 111.4 47.1 110.9 49.8 111.0Z" fill="#000" filter="url(#rough)"/>
<path d="M49.9 114.0C52.1 114.1 54.8 114.6 56.8 115.7C58.8 116.8 60.8 119.1 61.8 120.8C62.9 122.4 63.2 124.0 63.2 125.8C63.1 127.5 62.5 129.6 61.4 131.3C60.3 132.9 58.1 134.3 56.8 135.5C55.4 136.6 54.2 136.6 53.4 138.0C52.6 139.3 52.5 141.9 52.2 143.4C51.8 145.0 51.7 147.2 51.4 147.2C51.0 147.2 50.5 145.0 50.1 143.4C49.6 141.9 49.9 139.3 48.8 138.0C47.7 136.6 45.1 136.6 43.3 135.5C41.6 134.3 39.4 132.5 38.3 130.8C37.2 129.2 36.6 127.3 36.6 125.4C36.6 123.5 37.2 121.2 38.3 119.5C39.4 117.8 41.4 116.2 43.3 115.3C45.3 114.4 47.6 114.0 49.9 114.0Z" fill="url(#gR4)" filter="url(#cb15)"/>
</g>
<g transform="translate(539 956.5) scale(0.9883 1.0004)" clip-path="url(#cImg)">
<rect width="128.5" height="227" fill="#a5a5a5" filter="url(#nzB)"/>
<rect width="128.5" height="227" fill="#a5a5a5" filter="url(#nzB2)" opacity="0.18"/>
<rect width="128.5" height="227" fill="#a5a5a5" filter="url(#nzB3)" opacity="0.16"/>
<path d="M48 -20H78L80 80L84 250H52L46 110Z" fill="#747474" opacity="0.78" filter="url(#cb8)"/>
<path d="M33 30C34 80 38 130 40 160C42 190 42 210 43 232" fill="none" stroke="#e0e0e0" stroke-width="2.2" opacity="0.6" filter="url(#cb1)"/>
<path d="M70 -5C76 40 74 80 77 110C82 140 74 165 78 190C82 210 84 220 85 232" fill="none" stroke="#e0e0e0" stroke-width="2" opacity="0.55" filter="url(#cb1)"/>
<path d="M42.0 112.0C43.6 111.5 45.8 111.7 47.5 112.2C49.2 112.7 51.0 113.5 52.0 115.0C53.0 116.5 53.4 119.0 53.4 121.0C53.4 123.0 52.7 125.2 52.0 127.0C51.3 128.8 50.0 130.6 49.0 132.0C48.0 133.4 47.1 135.6 46.2 135.6C45.3 135.6 44.5 133.4 43.5 132.0C42.5 130.6 41.0 128.8 40.0 127.0C39.0 125.2 37.8 122.9 37.5 121.0C37.2 119.1 37.2 117.0 38.0 115.5C38.8 114.0 40.4 112.5 42.0 112.0Z" fill="#120000" filter="url(#rough)"/>
<path d="M42.6 113.7C43.9 113.3 45.8 113.5 47.2 113.9C48.6 114.3 50.1 115.0 51.0 116.2C51.8 117.5 52.1 119.6 52.1 121.3C52.1 123.0 51.6 124.8 51.0 126.3C50.4 127.9 49.3 129.3 48.4 130.5C47.6 131.7 46.9 133.5 46.1 133.5C45.3 133.5 44.7 131.7 43.8 130.5C43.0 129.3 41.7 127.9 40.9 126.3C40.0 124.8 39.1 122.9 38.8 121.3C38.5 119.7 38.6 117.9 39.2 116.7C39.8 115.4 41.2 114.2 42.6 113.7Z" fill="url(#gR5)" filter="url(#cb15)"/>
</g>
<g transform="translate(676.2 956.5) scale(0.9977 1.0004)" clip-path="url(#cImg)">
<rect width="128.5" height="227" fill="#a5a5a5" filter="url(#nzB)"/>
<rect width="128.5" height="227" fill="#a5a5a5" filter="url(#nzB2)" opacity="0.18"/>
<rect width="128.5" height="227" fill="#a5a5a5" filter="url(#nzB3)" opacity="0.16"/>
<path d="M48 -20H78L80 80L84 250H52L46 110Z" fill="#747474" opacity="0.78" filter="url(#cb8)"/>
<path d="M33 30C34 80 38 130 40 160C42 190 42 210 43 232" fill="none" stroke="#e0e0e0" stroke-width="2.2" opacity="0.6" filter="url(#cb1)"/>
<path d="M70 -5C76 40 74 80 77 110C82 140 74 165 78 190C82 210 84 220 85 232" fill="none" stroke="#e0e0e0" stroke-width="2" opacity="0.55" filter="url(#cb1)"/>
<path d="M43.0 115.0L46.2 112.0L49.5 117.0L48.2 122.0L44.6 120.0ZM44.5 123.7L48.0 121.0L51.5 125.5L50.1 130.0L46.2 128.2ZM46.0 130.9L48.5 129.0L51.0 132.2L50.0 135.5L47.2 134.2ZM68.0 112.7L73.0 110.0L78.0 114.5L76.0 119.0L70.5 117.2ZM70.0 119.4L75.2 117.0L80.5 121.0L78.4 125.0L72.6 123.4ZM72.0 124.7L75.0 123.0L78.0 125.8L76.8 128.5L73.5 127.4Z" fill="#2a2a2a" filter="url(#rough)"/>
</g>
<g transform="translate(812.4 956.5) scale(1.0241 1.0004)" clip-path="url(#cImg)">
<rect width="128.5" height="227" fill="#a5a5a5" filter="url(#nzB)"/>
<rect width="128.5" height="227" fill="#a5a5a5" filter="url(#nzB2)" opacity="0.18"/>
<rect width="128.5" height="227" fill="#a5a5a5" filter="url(#nzB3)" opacity="0.16"/>
<path d="M48 -20H78L80 80L84 250H52L46 110Z" fill="#747474" opacity="0.78" filter="url(#cb8)"/>
<path d="M33 30C34 80 38 130 40 160C42 190 42 210 43 232" fill="none" stroke="#e0e0e0" stroke-width="2.2" opacity="0.6" filter="url(#cb1)"/>
<path d="M70 -5C76 40 74 80 77 110C82 140 74 165 78 190C82 210 84 220 85 232" fill="none" stroke="#e0e0e0" stroke-width="2" opacity="0.55" filter="url(#cb1)"/>
<path d="M38.0 110.0C39.2 109.1 41.5 109.0 43.0 108.5C44.5 108.0 45.5 107.0 47.0 107.2C48.5 107.4 50.5 108.5 52.0 109.5C53.5 110.5 55.0 111.1 55.8 113.0C56.6 114.9 56.6 118.2 56.6 121.0C56.6 123.8 56.5 127.6 56.0 130.0C55.5 132.4 55.0 134.5 53.5 135.5C52.0 136.5 49.1 135.9 47.0 135.9C44.9 135.9 42.6 136.3 41.0 135.5C39.4 134.7 38.4 133.1 37.5 131.0C36.6 128.9 35.7 125.8 35.4 123.0C35.1 120.2 35.2 116.2 35.6 114.0C36.0 111.8 36.8 110.9 38.0 110.0Z" fill="#000" filter="url(#rough)"/>
<path d="M39.1 111.6C40.2 110.8 42.1 110.7 43.4 110.3C44.7 109.9 45.6 109.0 46.9 109.1C48.2 109.3 49.9 110.3 51.2 111.1C52.4 112.0 53.8 112.5 54.4 114.1C55.1 115.8 55.1 118.6 55.1 121.0C55.1 123.4 55.0 126.7 54.6 128.8C54.2 130.8 53.7 132.6 52.5 133.5C51.2 134.3 48.7 133.8 46.9 133.8C45.1 133.8 43.1 134.2 41.7 133.5C40.3 132.8 39.5 131.4 38.7 129.6C37.9 127.8 37.2 125.2 36.9 122.7C36.6 120.3 36.7 116.9 37.1 115.0C37.4 113.1 38.1 112.3 39.1 111.6Z" fill="url(#gG4)" filter="url(#cb15)"/>
</g>
<g transform="translate(951 956.5) scale(1.0039 1.0004)" clip-path="url(#cImg)">
<rect width="128.5" height="227" fill="#a5a5a5" filter="url(#nzB)"/>
<rect width="128.5" height="227" fill="#a5a5a5" filter="url(#nzB2)" opacity="0.18"/>
<rect width="128.5" height="227" fill="#a5a5a5" filter="url(#nzB3)" opacity="0.16"/>
<path d="M48 -20H78L80 80L84 250H52L46 110Z" fill="#747474" opacity="0.78" filter="url(#cb8)"/>
<path d="M33 30C34 80 38 130 40 160C42 190 42 210 43 232" fill="none" stroke="#e0e0e0" stroke-width="2.2" opacity="0.6" filter="url(#cb1)"/>
<path d="M70 -5C76 40 74 80 77 110C82 140 74 165 78 190C82 210 84 220 85 232" fill="none" stroke="#e0e0e0" stroke-width="2" opacity="0.55" filter="url(#cb1)"/>
<path d="M36.0 104.5C37.2 103.8 39.2 102.8 41.0 102.6C42.8 102.4 45.3 102.5 47.0 103.2C48.7 103.9 50.0 105.2 51.0 107.0C52.0 108.8 52.7 111.3 53.0 114.0C53.3 116.7 53.0 120.5 52.6 123.0C52.2 125.5 51.6 127.6 50.5 129.0C49.4 130.4 47.6 131.2 46.0 131.5C44.4 131.8 42.5 131.8 41.0 131.0C39.5 130.2 38.2 128.8 37.0 127.0C35.8 125.2 34.7 122.5 34.0 120.0C33.3 117.5 32.7 114.2 32.6 112.0C32.5 109.8 32.9 108.2 33.5 107.0C34.1 105.8 34.8 105.2 36.0 104.5Z" fill="#021c02" filter="url(#rough)"/>
<path d="M36.8 105.9C37.9 105.3 39.6 104.4 41.2 104.2C42.8 104.1 45.0 104.1 46.5 104.8C48.0 105.4 49.1 106.5 50.0 108.1C50.9 109.7 51.5 111.9 51.8 114.3C52.0 116.6 51.8 120.0 51.4 122.2C51.0 124.4 50.5 126.2 49.6 127.5C48.6 128.7 47.0 129.4 45.6 129.7C44.2 130.0 42.5 129.9 41.2 129.2C39.9 128.6 38.7 127.3 37.7 125.7C36.7 124.1 35.7 121.8 35.0 119.6C34.4 117.4 33.9 114.4 33.8 112.5C33.7 110.6 34.1 109.2 34.6 108.1C35.1 107.0 35.7 106.6 36.8 105.9Z" fill="url(#gG5)" filter="url(#cb15)"/>
</g>
<rect x="219" y="1159.7" width="29" height="8.4" fill="#fff"/>
</g>
<g id="panel-d">
<text transform="translate(1213.74 646.35) scale(1.0188 1)" font-size="65.31" font-weight="bold">d</text>
<text transform="translate(1303.47 947.33) rotate(-90) scale(0.9886 1)" font-size="53.06">Platelets</text>
<text transform="translate(1365.23 971.32) rotate(-90) scale(0.9856 1)" font-size="53.83">(arb. units)</text>
<g stroke="#000" fill="none">
<line x1="1474.5" y1="683.4" x2="1474.5" y2="1014.6" stroke-width="5" stroke-linecap="round"/>
<line x1="1464.6" y1="1004.4" x2="1955.6" y2="1004.4" stroke-width="5" stroke-linecap="round"/>
<line x1="1464.8" y1="898.27" x2="1474.5" y2="898.27" stroke-width="4.4" stroke-linecap="round"/>
<line x1="1464.8" y1="792.13" x2="1474.5" y2="792.13" stroke-width="4.4" stroke-linecap="round"/>
<line x1="1464.8" y1="686" x2="1474.5" y2="686" stroke-width="4.4" stroke-linecap="round"/>
<line x1="1594.3" y1="1004.4" x2="1594.3" y2="1014.6" stroke-width="4.6" stroke-linecap="round"/>
<line x1="1714.1" y1="1004.4" x2="1714.1" y2="1014.6" stroke-width="4.6" stroke-linecap="round"/>
<line x1="1833.9" y1="1004.4" x2="1833.9" y2="1014.6" stroke-width="4.6" stroke-linecap="round"/>
<line x1="1953.7" y1="1004.4" x2="1953.7" y2="1014.6" stroke-width="4.6" stroke-linecap="round"/>
<line x1="1498" y1="686.9" x2="1531" y2="686.9" stroke-width="4" stroke-linecap="round"/>
<line x1="1498" y1="731.4" x2="1531" y2="731.4" stroke-width="4" stroke="#ff0000" stroke-linecap="round"/>
</g>
<polyline points="1474.9,1004.3 1475.3,1003.1 1475.8,1001.4 1476.3,998.7 1476.7,997.0 1477.2,995.7 1478.8,995.3 1480.3,994.4 1481.9,993.4 1483.7,993.1 1485.5,992.1 1487.4,991.8 1488.7,991.0 1490.1,990.0 1491.5,989.0 1492.8,987.9 1494.4,987.0 1496.0,986.7 1497.5,986.0 1499.1,985.6 1499.7,984.2 1500.4,983.0 1501.0,981.4 1501.6,979.4 1502.2,977.7 1502.5,975.9 1502.8,974.0 1503.1,972.0 1503.4,970.2 1503.7,968.9 1504.0,967.0 1504.3,965.3 1504.6,963.7 1504.8,965.9 1505.1,967.3 1505.4,969.2 1505.6,970.7 1505.9,972.3 1506.1,974.6 1506.5,976.2 1506.8,977.8 1507.1,980.0 1507.5,982.3 1507.8,983.7 1508.2,985.0 1508.5,987.1 1508.7,985.8 1509.0,984.0 1509.3,982.2 1509.5,980.6 1509.8,978.7 1510.1,977.0 1510.3,974.8 1510.6,973.8 1510.8,971.5 1513.2,969.9 1513.4,972.1 1513.7,972.9 1514.0,975.2 1514.3,976.9 1514.5,978.3 1514.8,980.0 1515.1,981.7 1515.5,979.9 1515.9,978.7 1516.3,976.5 1516.7,975.1 1517.1,973.1 1518.7,974.1 1520.2,975.4 1522.6,977.0 1524.1,975.8 1525.7,973.8 1527.6,975.5 1529.6,976.2 1530.9,975.1 1532.2,974.2 1533.5,973.1 1534.6,971.7 1535.6,969.7 1536.6,967.6 1538.2,968.7 1539.8,969.9 1542.1,969.6 1544.5,969.9 1545.2,971.6 1546.0,973.8 1546.8,975.4 1549.9,975.4 1550.7,976.9 1551.5,979.5 1552.3,980.9 1554.1,980.9 1555.9,981.8 1557.8,981.7 1559.1,983.0 1560.4,985.3 1561.7,986.4 1562.2,988.4 1562.7,990.0 1563.2,991.8 1564.8,990.8 1566.4,989.9 1567.9,988.7 1569.5,988.3 1571.1,987.4 1572.6,987.1 1574.2,985.6 1575.7,984.8 1577.3,985.8 1578.9,987.3 1580.4,987.9 1581.7,987.0 1583.0,985.4 1584.3,984.8 1586.2,984.6 1588.0,984.0 1589.8,983.2 1591.9,983.8 1594.0,983.2 1596.1,983.7 1597.9,984.2 1599.7,983.7 1601.6,984.5 1602.7,983.4 1603.9,981.6 1605.1,980.3 1606.2,979.3 1607.0,978.2 1607.8,975.8 1608.6,974.6 1609.4,973.1 1609.8,971.9 1610.3,969.6 1610.7,968.0 1611.2,967.2 1611.6,965.1 1612.1,963.9 1612.5,962.1 1612.9,963.5 1613.3,965.9 1613.7,967.6 1614.1,969.9 1615.6,968.8 1617.2,966.9 1618.8,966.0 1620.3,966.9 1621.9,966.8 1622.3,968.2 1622.7,971.0 1623.1,972.1 1623.5,974.6 1625.4,974.0 1627.4,973.8 1628.1,972.8 1628.9,970.6 1629.7,969.3 1630.5,968.4 1631.3,966.8 1631.9,965.1 1632.4,963.2 1633.0,962.6 1633.6,960.5 1634.4,958.3 1635.2,956.4 1636.0,955.1 1636.0,956.5 1636.1,958.4 1636.2,960.2 1636.3,961.1 1636.4,963.0 1636.5,964.3 1636.6,966.4 1636.6,968.4 1636.7,970.0 1636.8,971.8 1636.9,973.2 1637.0,975.0 1637.1,976.2 1638.0,974.8 1638.9,973.0 1639.9,971.5 1642.2,970.8 1644.6,970.7 1646.1,971.3 1647.7,971.5 1650.0,971.7 1652.4,972.3 1653.2,970.1 1654.0,968.8 1654.7,967.5 1655.5,965.0 1656.3,963.7 1656.9,962.1 1657.6,960.2 1658.3,958.6 1658.9,956.5 1659.6,955.7 1660.2,953.5 1661.8,952.5 1663.3,951.9 1663.5,953.7 1663.6,955.1 1663.8,956.3 1663.9,958.5 1664.0,959.7 1664.2,961.3 1664.3,962.9 1664.5,964.6 1664.6,966.2 1664.8,968.4 1664.9,969.9 1666.7,970.2 1668.6,971.0 1670.4,970.7 1671.7,970.1 1673.0,969.2 1674.3,967.6 1675.1,965.5 1675.8,964.0 1676.6,962.0 1677.4,960.5 1678.6,958.7 1679.8,956.6 1680.0,958.4 1680.2,960.3 1680.3,961.8 1680.5,963.0 1680.7,964.9 1680.9,966.6 1681.1,967.7 1681.3,969.9 1683.7,968.4 1684.1,965.9 1684.5,964.4 1684.8,962.1 1685.2,960.5 1686.8,960.3 1688.4,959.2 1689.9,959.0 1691.5,957.5 1693.1,956.5 1694.6,955.8 1696.2,956.1 1697.7,956.6 1699.3,957.4 1701.6,957.0 1703.9,956.6 1705.5,955.4 1707.0,954.3 1708.1,955.6 1709.1,957.6 1710.2,959.0 1712.0,958.7 1713.8,959.4 1715.6,959.0 1717.4,959.9 1719.2,960.0 1720.9,960.1 1722.7,960.5 1723.3,962.3 1723.9,964.2 1724.4,965.3 1725.0,967.6 1726.6,967.9 1728.2,968.4 1729.7,968.4 1731.3,969.1 1733.4,969.0 1735.5,970.0 1737.5,969.9 1739.1,969.4 1740.7,969.2 1742.2,969.2 1743.8,968.4 1745.4,967.4 1746.9,966.0 1748.5,965.2 1750.3,965.8 1752.1,965.1 1754.0,965.2 1755.9,963.9 1757.9,963.7 1760.0,964.1 1762.0,963.8 1764.1,964.5 1766.0,964.5 1767.8,965.3 1769.6,965.2 1771.2,966.0 1772.7,965.9 1774.3,966.9 1775.9,967.6 1778.2,967.9 1780.6,968.4 1782.9,968.0 1785.2,967.6 1787.1,968.0 1788.9,969.2 1790.7,969.9 1792.8,969.5 1794.9,969.7 1797.0,969.9 1798.9,969.9 1800.7,970.7 1802.6,969.9 1804.5,970.8 1806.4,970.7 1808.2,969.3 1810.0,968.7 1811.8,967.6 1813.7,968.5 1815.5,969.6 1817.3,970.7 1819.3,970.8 1821.2,970.2 1823.2,969.7 1825.1,969.9 1826.9,969.3 1828.6,969.1 1830.4,969.7 1832.2,969.1 1834.0,969.6 1835.8,970.2 1837.6,969.9 1839.7,970.4 1841.8,969.9 1843.9,970.7 1845.9,972.1 1847.8,973.1 1849.6,973.0 1851.3,972.5 1853.1,971.9 1854.8,971.5 1856.8,971.5 1858.8,971.8 1860.7,972.4 1862.7,972.3 1863.2,970.4 1863.8,969.0 1864.3,967.3 1864.9,966.2 1865.4,964.4 1866.0,962.9 1866.5,961.1 1867.0,958.9 1867.6,957.2 1868.1,955.8 1870.0,955.3 1871.8,954.5 1873.6,954.3 1875.2,955.2 1876.7,956.6 1878.3,957.4 1880.3,958.1 1882.2,957.9 1884.2,958.4 1886.1,958.2 1886.9,956.3 1887.7,955.2 1888.5,954.5 1889.3,952.2 1890.0,951.2 1891.0,949.5 1891.9,947.6 1892.9,946.0 1893.8,945.3 1894.7,943.3 1896.3,942.7 1897.9,941.0 1898.9,939.3 1899.9,936.9 1901.0,935.5 1902.8,936.1 1904.6,936.8 1906.5,937.9 1907.0,939.6 1907.5,941.2 1908.0,942.6 1909.6,944.9" fill="none" stroke="#ff0000" stroke-width="3.9" stroke-linejoin="round" stroke-linecap="round"/>
<polyline points="1474.4,1004.3 1474.6,1002.2 1474.7,1001.3 1474.9,999.5 1475.1,997.3 1475.2,995.9 1475.4,994.1 1475.6,992.6 1475.7,991.1 1475.9,988.6 1476.1,986.9 1476.3,986.1 1476.4,984.0 1476.6,982.1 1476.9,980.7 1477.1,978.1 1477.3,976.8 1477.5,975.3 1477.8,973.0 1478.0,971.5 1479.6,972.8 1481.1,973.1 1481.6,971.8 1482.1,969.1 1482.5,967.4 1483.0,966.2 1483.5,964.5 1485.0,966.5 1486.6,967.6 1487.1,965.9 1487.5,964.1 1488.0,962.8 1488.5,960.8 1488.9,959.8 1490.1,957.9 1491.3,956.6 1493.6,957.4 1494.4,955.8 1495.2,954.3 1496.0,952.4 1496.8,950.9 1497.5,949.6 1498.6,950.6 1499.6,952.2 1500.7,953.5 1502.2,953.7 1503.8,954.3 1504.8,955.1 1505.9,957.3 1506.9,958.2 1508.5,959.0 1510.1,959.8 1511.4,961.5 1512.7,962.5 1514.0,964.5 1515.3,966.0 1516.6,966.9 1517.9,967.6 1518.5,968.9 1519.1,970.8 1519.7,973.0 1520.4,974.7 1521.0,976.2 1522.6,977.2 1524.1,977.1 1525.7,977.7 1527.3,978.9 1528.8,979.5 1530.4,980.1 1531.9,980.6 1533.5,981.6 1535.1,982.6 1536.6,982.9 1539.0,983.3 1541.3,982.9 1543.3,982.3 1545.2,981.7 1547.2,982.4 1549.2,982.9 1550.7,982.0 1552.3,981.8 1553.8,981.7 1555.4,982.5 1557.0,982.6 1558.5,982.8 1560.1,983.7 1561.4,982.8 1562.7,982.0 1564.0,980.9 1564.8,979.7 1565.6,977.9 1566.4,976.6 1567.1,975.3 1567.9,973.8 1569.0,972.8 1570.0,971.3 1571.1,969.9 1573.0,968.6 1575.0,967.6 1575.6,965.9 1576.3,963.7 1576.9,962.0 1577.6,961.0 1578.2,959.6 1578.9,957.4 1579.5,956.0 1580.1,954.2 1580.8,952.4 1581.4,951.2 1582.0,949.6 1583.6,949.0 1585.1,947.2 1585.9,946.0 1586.7,944.2 1587.5,943.0 1588.3,941.0 1589.0,939.3 1589.8,938.2 1590.6,937.3 1591.4,935.4 1592.2,934.0 1594.1,935.1 1596.1,936.3 1597.6,934.5 1599.2,933.2 1600.4,932.0 1601.6,930.8 1603.9,931.6 1604.2,930.4 1604.4,927.7 1604.7,926.8 1604.9,925.2 1605.2,923.6 1605.5,921.4 1607.8,921.7 1610.2,921.4 1611.5,920.7 1612.8,919.4 1614.1,918.3 1615.6,918.8 1617.2,919.1 1618.0,917.6 1618.8,915.8 1619.5,915.3 1620.3,913.5 1621.1,912.1 1621.8,910.2 1622.4,908.9 1623.1,907.3 1623.7,905.6 1624.4,904.1 1625.0,902.7 1626.1,904.0 1627.1,905.4 1628.1,906.6 1629.7,905.5 1631.3,904.2 1632.1,902.4 1632.8,900.2 1633.6,898.7 1634.4,897.2 1636.0,895.8 1637.5,895.2 1639.1,894.1 1640.0,892.9 1640.9,891.3 1641.8,889.7 1642.7,888.2 1643.7,886.0 1644.6,884.7 1645.7,883.7 1646.8,882.1 1647.9,880.0 1648.9,878.5 1650.0,877.6 1650.4,875.5 1650.8,874.8 1651.2,872.7 1651.6,871.4 1651.9,869.2 1652.1,868.0 1652.4,866.0 1652.6,864.0 1652.9,862.3 1653.2,861.0 1653.4,858.9 1653.7,857.2 1654.0,855.7 1654.2,854.2 1654.5,852.2 1654.8,850.3 1655.1,848.7 1655.4,846.4 1655.7,845.1 1656.0,843.3 1656.3,841.7 1656.7,839.4 1657.1,837.3 1657.5,836.2 1657.9,833.8 1658.1,832.1 1658.4,830.1 1658.6,828.8 1658.9,827.2 1659.2,824.6 1659.4,822.9 1659.7,821.3 1659.9,820.2 1660.2,818.2 1660.5,816.0 1660.8,814.7 1661.1,812.8 1661.5,810.7 1661.8,808.8 1662.7,807.1 1663.6,806.5 1664.6,804.9 1665.5,803.2 1666.5,801.8 1667.1,799.7 1667.6,798.4 1668.2,796.4 1668.8,794.7 1669.1,793.1 1669.4,791.1 1669.7,789.7 1670.1,787.4 1670.4,785.9 1670.7,784.9 1671.0,783.1 1671.3,780.8 1671.6,779.7 1671.9,777.5 1672.5,775.5 1673.0,774.4 1673.5,772.1 1674.3,774.3 1675.1,776.0 1675.7,774.3 1676.4,772.6 1677.0,770.7 1677.7,770.1 1678.3,767.6 1679.0,766.6 1679.6,765.4 1680.2,764.0 1680.9,762.0 1681.5,760.0 1682.1,758.8 1682.6,761.0 1683.1,762.9 1683.7,764.2 1685.6,764.9 1687.6,765.0 1688.2,766.7 1688.9,768.3 1689.5,769.9 1690.2,771.5 1690.8,773.7 1691.5,775.2 1691.9,776.8 1692.3,778.2 1692.7,779.7 1693.1,782.0 1693.4,783.3 1693.8,785.2 1694.2,786.6 1694.6,788.5 1695.1,790.5 1695.6,792.1 1696.0,792.7 1696.5,794.4 1697.0,796.3 1697.2,798.2 1697.5,801.0 1697.7,802.6 1697.8,804.5 1697.8,805.6 1697.8,807.1 1697.8,809.2 1697.8,810.9 1697.9,812.6 1697.9,813.6 1697.9,815.8 1697.9,817.2 1697.9,818.6 1698.0,820.7 1698.0,821.5 1698.0,823.6 1698.0,824.5 1698.0,826.2 1698.0,828.6 1698.1,829.5 1698.1,831.7 1698.1,833.1 1698.1,835.0 1698.1,836.0 1698.2,837.6 1698.2,839.2 1698.2,841.4 1698.2,842.7 1698.2,844.7 1698.3,846.2 1698.3,847.0 1698.3,849.1 1698.3,850.2 1698.3,851.7 1698.3,853.3 1698.4,855.8 1698.4,857.3 1698.4,859.0 1698.4,860.0 1698.4,861.9 1698.5,863.7 1698.5,864.9 1698.5,866.7 1698.5,867.9 1698.5,869.8 1700.5,869.0 1702.4,869.0 1703.9,867.5 1704.7,865.4 1705.5,864.3 1706.3,862.0 1708.2,860.9 1710.2,859.7 1710.8,858.4 1711.4,856.2 1712.0,854.2 1712.7,853.1 1713.3,851.1 1713.9,849.8 1714.5,847.4 1715.1,846.5 1715.6,844.8 1716.4,845.8 1717.2,847.2 1718.0,849.4 1718.8,849.9 1719.6,851.8 1719.9,853.1 1720.3,855.5 1720.7,856.4 1721.1,857.7 1721.5,859.3 1721.9,861.2 1722.7,862.7 1723.5,865.0 1724.2,866.1 1725.0,868.3 1726.2,869.9 1727.4,870.6 1727.6,868.8 1727.8,867.8 1728.0,866.0 1728.3,863.7 1728.5,862.0 1728.7,860.5 1728.9,858.9 1730.1,857.3 1731.3,856.5 1732.6,857.7 1733.9,858.1 1735.2,859.7 1736.5,860.4 1737.8,862.8 1739.1,863.6 1739.2,865.0 1739.4,867.1 1739.5,868.6 1739.6,870.1 1739.8,871.6 1739.9,873.7 1741.8,873.0 1743.8,871.4 1745.4,872.4 1746.9,872.9 1748.5,873.0 1750.3,873.0 1752.1,873.7 1754.0,874.5 1754.9,876.2 1755.9,878.2 1756.9,879.3 1757.9,880.8 1760.2,880.6 1762.6,880.0 1764.1,881.5 1765.7,882.3 1767.3,883.9 1769.2,882.8 1771.2,881.6 1772.7,879.8 1774.3,878.4 1774.9,879.7 1775.5,881.1 1776.2,882.9 1776.8,885.2 1777.4,886.2 1779.4,887.4 1781.3,888.6 1783.3,888.4 1785.2,887.8 1786.0,889.7 1786.8,891.8 1787.6,893.0 1788.4,894.8 1790.3,895.8 1792.3,897.2 1794.1,896.7 1795.9,896.5 1797.8,896.4 1799.6,896.5 1801.4,896.3 1803.2,895.6 1805.6,895.0 1807.9,894.8 1809.5,895.8 1811.1,897.2 1812.0,898.6 1813.0,900.0 1814.0,901.4 1815.0,902.7 1816.3,904.0 1817.6,905.3 1818.9,907.4 1820.4,907.6 1822.0,907.9 1823.6,908.9 1825.1,910.2 1826.7,911.3 1828.5,910.8 1830.3,910.8 1832.2,911.3 1833.7,910.4 1835.3,909.0 1836.9,908.1 1838.8,909.2 1840.8,909.7 1842.7,910.5 1844.7,911.3 1846.0,912.7 1847.3,913.0 1848.6,914.4 1849.9,915.4 1851.2,916.8 1852.5,917.5 1854.3,917.6 1856.2,919.1 1858.0,919.1 1859.5,918.2 1861.1,918.4 1862.7,917.5 1864.1,917.3 1865.5,916.3 1866.9,915.0 1868.3,914.0 1869.7,913.6 1871.7,914.4 1873.6,915.2 1875.7,915.9 1877.8,915.5 1879.9,916.0 1882.0,916.7 1884.0,916.1 1886.1,916.7 1887.7,917.6 1889.3,917.0 1890.8,917.7 1892.4,918.3 1894.0,919.3 1895.5,919.8 1897.1,920.5 1898.6,920.7" fill="none" stroke="#000" stroke-width="3.9" stroke-linejoin="round" stroke-linecap="round"/>
<text transform="translate(1374.21 694.35) scale(0.9657 1)" font-size="24.73">1.5×10</text><text transform="translate(1452.31 687.53) scale(0.9778 1)" font-size="16.54">8</text>
<text transform="translate(1394.09 800.35) scale(0.9657 1)" font-size="24.73">1×10</text><text transform="translate(1452.31 793.53) scale(0.9778 1)" font-size="16.54">8</text>
<text transform="translate(1394.09 906.15) scale(0.9657 1)" font-size="24.73">5×10</text><text transform="translate(1452.15 899.33) scale(0.9778 1)" font-size="16.54">7</text>
<text transform="translate(1444.84 1012.95) scale(0.9657 1)" font-size="24.73">0</text>
<text x="1467.8" y="1040.96" font-size="24.03">0</text>
<text x="1581.22" y="1040.96" font-size="24.03">50</text>
<text x="1693.9" y="1040.96" font-size="24.03">100</text>
<text x="1813.7" y="1040.96" font-size="24.03">150</text>
<text x="1933.8" y="1040.96" font-size="24.03">200</text>
<text transform="translate(1619.81 1090.6) scale(0.9829 1)" font-size="53.82">Time (s)</text>
<text transform="translate(1550.65 699.14) scale(0.9691 1)" font-size="36.04">Ctrl siRNA</text>
<text transform="translate(1550.69 743.74) scale(0.9777 1)" font-size="36.04">HRG siRNA</text>
</g>
<g id="panel-e">
<text transform="translate(1213.35 1162.36) scale(1.0375 1)" font-size="63.93" font-weight="bold">e</text>
<text transform="translate(1309.78 1419.9) rotate(-90) scale(1.0001 1)" font-size="52.11">Fibrin</text>
<text transform="translate(1371.32 1480.92) rotate(-90) scale(0.9960 1)" font-size="53.4">(arb. units)</text>
<g stroke="#000" fill="none">
<line x1="1463.6" y1="1192.8" x2="1463.6" y2="1522.6" stroke-width="4.8" stroke-linecap="round"/>
<line x1="1453.6" y1="1512.4" x2="1937.8" y2="1512.4" stroke-width="5" stroke-linecap="round"/>
<line x1="1453.6" y1="1449" x2="1463.6" y2="1449" stroke-width="4.6" stroke-linecap="round"/>
<line x1="1453.6" y1="1385.6" x2="1463.6" y2="1385.6" stroke-width="4.6" stroke-linecap="round"/>
<line x1="1453.6" y1="1322.2" x2="1463.6" y2="1322.2" stroke-width="4.6" stroke-linecap="round"/>
<line x1="1453.6" y1="1258.8" x2="1463.6" y2="1258.8" stroke-width="4.6" stroke-linecap="round"/>
<line x1="1453.6" y1="1195.4" x2="1463.6" y2="1195.4" stroke-width="4.6" stroke-linecap="round"/>
<line x1="1582.1" y1="1512.4" x2="1582.1" y2="1522.6" stroke-width="4.6" stroke-linecap="round"/>
<line x1="1700.6" y1="1512.4" x2="1700.6" y2="1522.6" stroke-width="4.6" stroke-linecap="round"/>
<line x1="1819.1" y1="1512.4" x2="1819.1" y2="1522.6" stroke-width="4.6" stroke-linecap="round"/>
<line x1="1937.6" y1="1512.4" x2="1937.6" y2="1522.6" stroke-width="4.6" stroke-linecap="round"/>
<line x1="1483.6" y1="1197" x2="1516.4" y2="1197" stroke-width="4" stroke-linecap="round"/>
<line x1="1483.6" y1="1241.4" x2="1516.4" y2="1241.4" stroke-width="4" stroke="#008000" stroke-linecap="round"/>
</g>
<polyline points="1463.8,1512.5 1464.2,1510.5 1464.8,1508.6 1465.2,1507.1 1465.8,1505.1 1466.2,1503.8 1467.5,1501.6 1468.8,1500.3 1470.0,1498.8 1471.7,1498.0 1473.3,1496.6 1475.0,1495.0 1476.9,1496.3 1478.8,1497.0 1479.8,1495.3 1480.8,1494.2 1481.8,1492.6 1482.8,1491.0 1483.8,1490.0 1485.6,1489.3 1487.5,1489.5 1489.4,1490.1 1491.2,1491.2 1492.5,1490.3 1493.8,1488.8 1495.0,1487.0 1496.9,1486.8 1498.8,1486.3 1500.6,1485.2 1502.5,1485.0 1504.2,1484.3 1505.8,1484.1 1507.5,1483.8 1509.2,1483.4 1510.8,1482.9 1512.5,1482.0 1514.4,1481.5 1516.2,1482.1 1518.1,1482.2 1520.0,1482.0 1521.7,1481.8 1523.3,1481.1 1525.0,1481.2 1526.7,1480.5 1528.3,1481.2 1530.0,1480.5 1532.1,1480.7 1534.2,1480.2 1536.2,1480.0 1537.9,1480.9 1539.6,1482.6 1541.2,1483.2 1542.8,1482.6 1544.4,1482.3 1545.9,1481.6 1547.5,1480.5 1549.0,1479.9 1550.5,1479.2 1552.0,1478.8 1553.5,1478.0 1555.0,1477.5 1556.7,1476.3 1558.3,1475.6 1560.0,1475.3 1561.7,1473.7 1563.3,1472.8 1565.0,1472.5 1566.4,1471.7 1567.9,1470.5 1569.3,1469.9 1570.7,1468.9 1572.1,1467.9 1573.6,1467.7 1575.0,1466.2 1576.6,1465.0 1578.1,1464.3 1579.7,1463.1 1581.2,1462.5 1582.5,1463.9 1583.8,1465.0 1585.3,1464.0 1586.9,1463.3 1588.4,1463.0 1590.0,1462.0 1591.9,1461.6 1593.8,1461.7 1595.6,1461.9 1597.5,1461.2 1599.0,1460.1 1600.5,1459.3 1602.0,1458.7 1603.5,1458.5 1605.0,1457.5 1606.2,1456.5 1607.5,1455.0 1608.8,1454.0 1610.0,1452.8 1611.2,1452.0 1612.5,1450.4 1613.8,1450.1 1615.0,1448.8 1616.4,1448.1 1617.9,1447.1 1619.3,1445.8 1620.7,1445.0 1622.1,1442.9 1623.6,1442.1 1625.0,1441.2 1626.7,1441.1 1628.3,1440.3 1630.0,1439.3 1631.7,1439.2 1633.3,1438.3 1635.0,1437.5 1636.6,1437.3 1638.2,1436.2 1639.8,1435.6 1641.4,1435.3 1643.0,1434.4 1644.6,1434.2 1646.2,1433.8 1647.9,1433.5 1649.5,1432.1 1651.1,1431.1 1652.7,1430.4 1654.3,1429.8 1655.9,1429.8 1657.5,1428.8 1659.2,1428.0 1660.8,1427.3 1662.5,1426.4 1664.2,1426.8 1665.8,1425.5 1667.5,1425.0 1668.9,1423.8 1670.4,1422.7 1671.8,1421.8 1673.2,1421.1 1674.6,1420.7 1676.1,1419.3 1677.5,1418.8 1679.0,1417.4 1680.4,1417.1 1681.9,1416.0 1683.3,1416.0 1684.8,1414.2 1686.2,1413.8 1688.0,1413.6 1689.7,1413.6 1691.4,1413.0 1693.1,1413.4 1694.8,1412.6 1696.6,1412.2 1698.3,1412.1 1700.0,1412.0 1698.0,1411.6 1696.0,1412.1 1694.0,1412.3 1695.9,1411.8 1697.8,1412.4 1699.6,1412.2 1701.5,1411.6 1703.4,1411.5 1705.2,1410.6 1707.0,1410.4 1708.9,1410.0 1710.7,1409.6 1712.5,1409.2 1714.3,1409.1 1715.9,1408.9 1717.5,1407.4 1719.0,1406.7 1720.6,1407.0 1722.2,1406.0 1723.7,1405.2 1725.8,1405.5 1727.9,1404.6 1730.0,1404.5 1732.1,1405.2 1734.2,1405.1 1736.2,1405.2 1737.8,1405.0 1739.4,1404.3 1740.9,1403.5 1742.5,1402.9 1740.8,1402.7 1739.0,1403.0 1737.3,1403.9 1735.6,1404.2 1733.8,1404.4 1732.1,1404.0 1730.4,1404.6 1728.7,1404.9 1726.9,1405.0 1725.2,1405.4 1723.5,1405.2 1725.5,1405.0 1727.6,1404.9 1729.7,1404.5 1731.8,1405.0 1733.9,1404.9 1736.0,1405.5 1737.5,1405.4 1739.1,1404.8 1740.7,1403.7 1742.2,1402.0 1743.8,1401.8 1745.4,1400.7 1746.9,1399.0 1748.9,1398.8 1750.8,1397.7 1752.8,1398.2 1754.7,1397.4 1756.6,1396.6 1758.4,1397.1 1760.2,1396.4 1762.0,1395.4 1763.9,1395.1 1765.7,1395.1 1767.3,1394.4 1768.8,1393.6 1770.4,1393.0 1771.9,1391.9 1773.5,1391.5 1775.1,1389.8 1776.6,1388.6 1778.2,1388.7 1779.8,1387.2 1781.9,1387.0 1783.9,1388.2 1786.0,1388.0 1787.6,1387.0 1789.2,1387.1 1790.7,1386.5 1792.3,1385.9 1793.8,1384.9 1795.9,1384.7 1798.0,1384.8 1800.1,1384.1 1801.7,1383.0 1803.2,1382.7 1804.8,1381.6 1806.4,1381.0 1807.9,1381.0 1809.5,1380.4 1811.1,1379.6 1812.6,1379.1 1814.2,1378.6 1816.1,1377.8 1817.9,1377.5 1819.8,1377.8 1821.7,1377.4 1823.6,1377.1 1825.1,1376.9 1826.7,1375.9 1828.3,1374.8 1829.8,1374.4 1831.4,1374.0 1833.0,1373.7 1834.5,1372.8 1836.1,1371.7 1837.6,1371.6 1839.7,1371.7 1841.8,1371.4 1843.9,1370.8 1845.9,1370.2 1847.8,1370.5 1849.8,1370.1 1851.7,1370.0 1853.3,1369.6 1854.8,1368.3 1856.4,1367.7 1858.5,1367.1 1860.6,1367.2 1862.7,1366.9 1864.4,1366.8 1866.2,1365.3 1867.9,1364.7 1869.7,1364.6 1871.7,1365.5 1873.6,1366.1 1875.7,1366.8 1877.8,1366.7 1879.9,1366.9 1881.4,1366.5 1883.0,1366.6 1884.6,1365.8 1886.4,1366.2 1888.2,1365.6 1890.0,1366.1 1891.6,1365.6 1893.2,1364.3" fill="none" stroke="#008000" stroke-width="3.7" stroke-linejoin="round" stroke-linecap="round"/>
<polyline points="1463.8,1512.5 1463.9,1510.5 1464.0,1509.0 1464.1,1507.1 1464.2,1505.6 1464.4,1503.9 1464.5,1501.6 1464.6,1499.8 1464.8,1498.8 1464.9,1496.5 1465.0,1495.0 1465.2,1493.1 1465.4,1492.2 1465.7,1490.0 1465.9,1488.7 1466.1,1486.6 1466.3,1485.1 1466.6,1483.0 1466.8,1481.8 1467.0,1480.0 1467.4,1478.8 1467.8,1476.9 1468.1,1475.6 1468.5,1473.9 1468.9,1471.8 1469.2,1470.9 1469.6,1469.2 1470.0,1467.5 1470.8,1465.8 1471.5,1464.0 1472.2,1463.4 1473.0,1461.5 1473.8,1460.0 1474.6,1458.7 1475.4,1457.3 1476.2,1455.5 1477.0,1453.8 1478.0,1455.4 1479.0,1456.1 1480.0,1457.5 1481.9,1459.1 1483.8,1460.0 1485.6,1459.3 1487.5,1458.8 1489.2,1460.0 1490.8,1460.8 1492.5,1461.2 1494.2,1461.3 1495.8,1461.7 1497.5,1462.5 1499.2,1463.2 1500.8,1465.0 1502.5,1465.5 1503.8,1464.4 1505.0,1463.5 1506.2,1462.1 1507.5,1461.2 1509.4,1460.9 1511.2,1460.5 1513.1,1460.2 1515.0,1460.0 1516.2,1458.8 1517.5,1457.6 1518.8,1456.2 1519.2,1455.0 1519.8,1453.1 1520.2,1451.6 1520.8,1449.5 1521.6,1451.6 1522.5,1453.4 1523.3,1454.8 1524.2,1456.0 1525.0,1458.0 1525.9,1457.0 1526.9,1455.7 1527.8,1454.3 1528.8,1452.5 1530.0,1450.9 1531.2,1449.4 1532.5,1447.5 1533.2,1445.5 1534.0,1444.3 1534.8,1442.3 1535.5,1440.3 1536.2,1438.8 1537.5,1437.1 1538.8,1436.6 1540.0,1435.5 1541.2,1433.8 1542.7,1432.6 1544.2,1432.6 1545.6,1431.5 1547.1,1430.6 1548.5,1430.0 1550.0,1429.5 1551.6,1428.8 1553.1,1428.0 1554.7,1426.2 1556.2,1425.8 1557.9,1425.6 1559.5,1424.7 1561.1,1425.1 1562.7,1424.4 1564.3,1424.7 1565.9,1424.5 1567.5,1423.8 1569.2,1422.9 1570.8,1422.6 1572.5,1421.1 1574.2,1420.0 1575.8,1419.7 1577.5,1418.8 1579.2,1417.0 1580.8,1415.9 1582.5,1415.0 1583.5,1413.7 1584.5,1412.6 1585.5,1410.9 1586.5,1409.5 1587.5,1408.8 1589.0,1408.0 1590.5,1406.3 1592.0,1405.8 1593.5,1404.5 1595.0,1403.0 1596.5,1402.3 1598.0,1401.8 1599.5,1401.2 1601.0,1400.7 1602.5,1400.0 1603.8,1399.0 1605.1,1397.8 1606.4,1396.6 1607.7,1395.5 1608.9,1394.6 1610.2,1392.9 1611.4,1391.6 1612.7,1390.4 1613.5,1389.1 1614.2,1387.2 1615.0,1385.8 1615.8,1385.0 1616.6,1383.1 1617.4,1381.7 1618.1,1380.2 1619.2,1378.3 1620.3,1377.3 1621.4,1376.1 1622.5,1374.1 1623.6,1373.2 1624.6,1371.7 1625.6,1370.2 1626.6,1368.0 1627.5,1366.9 1629.5,1365.9 1631.4,1364.6 1632.2,1362.7 1633.0,1361.1 1633.8,1359.1 1635.1,1357.6 1636.4,1356.7 1637.7,1355.2 1638.9,1353.5 1640.0,1351.3 1641.9,1350.0 1643.7,1349.3 1645.5,1348.9 1646.8,1348.0 1648.0,1347.2 1649.3,1345.4 1650.5,1344.5 1651.8,1343.5 1653.0,1342.4 1654.3,1341.1 1655.5,1340.0 1656.8,1338.9 1658.0,1338.0 1659.2,1336.3 1660.4,1334.9 1661.5,1333.1 1662.7,1331.7 1664.3,1330.3 1665.8,1329.4 1667.4,1327.8 1669.0,1326.0 1670.5,1325.3 1672.1,1323.9 1673.1,1322.8 1674.2,1321.1 1675.2,1319.7 1676.3,1319.0 1677.3,1317.1 1678.4,1316.1 1679.6,1314.5 1680.9,1313.5 1682.1,1312.5 1683.4,1310.7 1684.6,1309.8 1686.2,1308.7 1687.7,1307.8 1689.3,1307.3 1690.9,1306.0 1692.4,1305.1 1693.8,1304.1 1695.2,1302.1 1696.5,1300.9 1697.9,1299.7 1699.7,1298.8 1701.6,1298.0 1703.4,1296.5 1704.5,1295.2 1705.6,1293.8 1706.7,1292.4 1707.8,1291.6 1708.9,1290.3 1710.7,1289.4 1712.5,1289.5 1714.3,1288.7 1715.9,1288.3 1717.5,1286.8 1719.0,1286.4 1720.3,1284.9 1721.5,1284.2 1722.8,1282.7 1724.0,1281.7 1725.3,1280.1 1725.9,1278.2 1726.5,1276.2 1727.0,1274.6 1727.6,1273.1 1728.7,1272.0 1729.8,1270.0 1730.9,1268.7 1732.0,1267.4 1733.1,1266.0 1734.4,1264.9 1735.7,1263.9 1737.0,1262.9 1738.3,1264.4 1739.6,1264.6 1740.9,1266.0 1742.9,1265.8 1744.9,1267.0 1746.9,1266.8 1749.0,1267.3 1751.1,1267.6 1753.2,1267.3 1755.0,1267.3 1756.8,1267.9 1758.7,1267.6 1760.2,1265.7 1762.6,1266.8 1764.9,1267.5 1767.3,1267.3 1768.3,1265.3 1769.3,1264.1 1770.4,1262.1 1771.9,1261.2 1773.5,1259.7 1775.1,1258.2 1778.2,1257.9 1779.5,1256.3 1780.8,1254.6 1782.1,1253.2 1783.7,1252.7 1785.2,1252.4 1787.0,1252.1 1788.8,1252.0 1790.5,1252.5 1792.3,1252.4 1794.2,1252.0 1796.2,1252.3 1798.1,1251.4 1800.1,1251.6 1802.2,1251.9 1804.3,1251.5 1806.4,1251.2 1808.2,1250.5 1810.0,1249.5 1811.8,1248.0 1813.7,1248.1 1815.5,1247.4 1817.3,1246.9 1818.2,1245.1 1819.2,1244.5 1820.1,1242.6 1821.1,1241.4 1822.0,1240.2 1823.6,1239.9 1825.1,1239.2 1826.7,1238.7 1828.3,1237.4 1829.8,1236.3 1831.4,1237.5 1833.0,1238.0 1834.5,1238.7 1836.1,1238.0 1837.6,1237.4 1839.2,1237.1 1840.8,1236.1 1842.3,1234.5 1843.9,1233.2 1846.2,1234.7 1848.2,1233.9 1850.2,1232.4 1851.7,1231.4 1853.3,1230.3 1854.8,1229.7 1856.4,1231.1 1858.0,1232.4 1859.3,1231.3 1860.7,1229.3 1862.1,1228.6 1863.5,1226.9 1865.0,1229.1 1866.6,1230.4 1867.9,1229.6 1869.3,1228.6 1870.7,1226.7 1872.1,1226.1 1873.1,1224.8 1874.1,1223.6 1875.2,1221.4 1876.2,1220.2 1877.3,1218.7 1878.3,1217.5 1881.4,1217.2" fill="none" stroke="#000" stroke-width="3.6" stroke-linejoin="round" stroke-linecap="round"/>
<text transform="translate(1385.03 1456.6) scale(0.9414 1)" font-size="25.02">2×10</text><text transform="translate(1440.97 1449.68) scale(0.9440 1)" font-size="16.68">7</text>
<text transform="translate(1385.03 1393.2) scale(0.9414 1)" font-size="25.02">4×10</text><text transform="translate(1440.97 1386.28) scale(0.9440 1)" font-size="16.68">7</text>
<text transform="translate(1385.03 1329.8) scale(0.9414 1)" font-size="25.02">6×10</text><text transform="translate(1440.97 1322.88) scale(0.9440 1)" font-size="16.68">7</text>
<text transform="translate(1385.03 1266.4) scale(0.9414 1)" font-size="25.02">8×10</text><text transform="translate(1440.97 1259.48) scale(0.9440 1)" font-size="16.68">7</text>
<text transform="translate(1385.03 1203) scale(0.9414 1)" font-size="25.02">1×10</text><text transform="translate(1441.13 1196.08) scale(0.9440 1)" font-size="16.68">8</text>
<text transform="translate(1434.81 1520.95) scale(0.9414 1)" font-size="25.02">0</text>
<text transform="translate(1457.12 1549.17) scale(0.9907 1)" font-size="23.46">0</text>
<text transform="translate(1569.17 1549.17) scale(0.9907 1)" font-size="23.46">50</text>
<text transform="translate(1680.78 1549.17) scale(0.9907 1)" font-size="23.46">100</text>
<text transform="translate(1799.28 1549.17) scale(0.9907 1)" font-size="23.46">150</text>
<text transform="translate(1918.07 1549.17) scale(0.9907 1)" font-size="23.46">200</text>
<text transform="translate(1607.83 1600) scale(0.9548 1)" font-size="54.4">Time (s)</text>
<text transform="translate(1535.88 1209.24) scale(0.9486 1)" font-size="36.18">Ctrl siRNA</text>
<text transform="translate(1535.53 1254.14) scale(0.9650 1)" font-size="36.04">HRG siRNA</text>
</g>
<g id="panel-f">
<text transform="translate(1.04 1335) scale(0.9781 1)" font-size="65.31" font-weight="bold">f</text>
<text transform="translate(113.38 1722.85) rotate(-90) scale(1.0985 1)" font-size="42.45">Platelets AUC</text>
<text transform="translate(161.32 1691.95) rotate(-90) scale(1.1300 1)" font-size="41.82">(arb. units)</text>
<g stroke="#000" fill="none">
<line x1="214.2" y1="1436" x2="214.2" y2="1720.6" stroke-width="4.4" stroke-linecap="round"/>
<line x1="206.8" y1="1720.6" x2="587.8" y2="1720.6" stroke-width="4" stroke-linecap="round"/>
<line x1="206.8" y1="1626.4" x2="214.2" y2="1626.4" stroke-width="3.8" stroke-linecap="round"/>
<line x1="206.8" y1="1532" x2="214.2" y2="1532" stroke-width="3.8" stroke-linecap="round"/>
<line x1="206.8" y1="1437.6" x2="214.2" y2="1437.6" stroke-width="3.8" stroke-linecap="round"/>
<line x1="307.3" y1="1720.6" x2="307.3" y2="1729.4" stroke-width="3.8" stroke-linecap="round"/>
<line x1="492.9" y1="1720.6" x2="492.9" y2="1729.4" stroke-width="3.8" stroke-linecap="round"/>
<path d="M246.4 1720.6V1494.1H367.9V1720.6" fill="none" stroke-width="2.8"/>
<path d="M432.3 1720.6V1514.2H553.8V1720.6" fill="none" stroke-width="2.8" stroke="#ff0000"/>
<path d="M274.9 1487.5H339.3M274.9 1499.9H339.3M307.1 1487.5V1499.9" fill="none" stroke-width="2.4"/>
<path d="M460.8 1505.9H525.2M460.8 1520.8H525.2M493 1505.9V1520.8" fill="none" stroke-width="2.4" stroke="#ff0000"/>
<path d="M305.8 1402.9H488.8M305.8 1396.4V1409.4M488.8 1396.4V1409.4" fill="none" stroke-width="1.6"/>
</g>
<g><circle cx="292.02" cy="1459.8" r="3.15"/><circle cx="302.04" cy="1460.58" r="3.15"/><circle cx="312.07" cy="1459.03" r="3.15"/><circle cx="302.04" cy="1467.52" r="3.15"/><circle cx="312.07" cy="1469.31" r="3.15"/><circle cx="322.09" cy="1466.23" r="3.15"/><circle cx="332.12" cy="1475.48" r="3.15"/><circle cx="282.25" cy="1478.31" r="3.15"/><circle cx="292.02" cy="1479.08" r="3.15"/><circle cx="302.04" cy="1479.6" r="3.15"/><circle cx="312.07" cy="1479.08" r="3.15"/><circle cx="322.09" cy="1477.8" r="3.15"/><circle cx="302.82" cy="1495.02" r="3.15"/><circle cx="302.04" cy="1506.07" r="3.15"/><circle cx="312.07" cy="1507.36" r="3.15"/><circle cx="302.04" cy="1530.49" r="3.15"/><circle cx="312.07" cy="1532.55" r="3.15"/><circle cx="312.07" cy="1540.26" r="3.15"/><circle cx="302.04" cy="1544.11" r="3.15"/><circle cx="292.02" cy="1560.56" r="3.15"/><circle cx="302.04" cy="1560.05" r="3.15"/><circle cx="312.07" cy="1560.82" r="3.15"/><circle cx="322.09" cy="1557.99" r="3.15"/><circle cx="302.04" cy="1570.84" r="3.15"/><circle cx="312.07" cy="1574.7" r="3.15"/><circle cx="302.04" cy="1579.33" r="3.15"/></g>
<g fill="#ff0000"><circle cx="482.74" cy="1462.37" r="3.15"/><circle cx="492.77" cy="1468.29" r="3.15"/><circle cx="482.74" cy="1474.46" r="3.15"/><circle cx="492.77" cy="1477.8" r="3.15"/><circle cx="492.77" cy="1484.74" r="3.15"/><circle cx="472.97" cy="1491.93" r="3.15"/><circle cx="472.97" cy="1497.59" r="3.15"/><circle cx="482.74" cy="1496.3" r="3.15"/><circle cx="492.77" cy="1497.07" r="3.15"/><circle cx="502.79" cy="1500.42" r="3.15"/><circle cx="512.82" cy="1497.07" r="3.15"/><circle cx="482.74" cy="1504.27" r="3.15"/><circle cx="492.77" cy="1505.3" r="3.15"/><circle cx="482.74" cy="1525.35" r="3.15"/><circle cx="502.79" cy="1524.06" r="3.15"/><circle cx="482.74" cy="1531.77" r="3.15"/><circle cx="502.79" cy="1529.72" r="3.15"/><circle cx="492.77" cy="1545.14" r="3.15"/><circle cx="492.77" cy="1574.7" r="3.15"/><circle cx="492.77" cy="1582.41" r="3.15"/><circle cx="482.74" cy="1594.24" r="3.15"/><circle cx="492.77" cy="1597.83" r="3.15"/><circle cx="492.77" cy="1611.46" r="3.15"/><circle cx="492.77" cy="1617.88" r="3.15"/><circle cx="482.74" cy="1619.68" r="3.15"/><circle cx="482.74" cy="1629.96" r="3.15"/><circle cx="502.79" cy="1633.3" r="3.15"/><circle cx="502.79" cy="1641.02" r="3.15"/><circle cx="482.74" cy="1645.13" r="3.15"/></g>
<text transform="translate(167.69 1444.69) scale(0.8228 1)" font-size="21.2">10</text><text transform="translate(189.94 1438.86) scale(0.8467 1)" font-size="13.57">11</text>
<text transform="translate(167.69 1539.09) scale(0.8228 1)" font-size="21.2">10</text><text transform="translate(189.94 1533.26) scale(0.8467 1)" font-size="13.57">10</text>
<text transform="translate(174.29 1633.09) scale(0.8228 1)" font-size="21.2">10</text><text transform="translate(197.45 1627.26) scale(0.8467 1)" font-size="13.57">9</text>
<text transform="translate(174.29 1727.69) scale(0.8228 1)" font-size="21.2">10</text><text transform="translate(197.51 1721.86) scale(0.8467 1)" font-size="13.57">8</text>
<text transform="translate(359.81 1390.12) scale(0.8752 1)" font-size="28.27">0.0366</text>
<text transform="translate(281.41 1442.21) scale(0.9116 1)" font-size="27.88">(26)</text>
<text transform="translate(470.21 1442.21) scale(0.9116 1)" font-size="27.88">(29)</text>
<text transform="translate(117.27 1774.3) scale(0.8763 1)" font-size="46.98">siRNA:</text>
<text transform="translate(274.24 1774.52) scale(0.8868 1)" font-size="48.06">Ctrl</text>
<text transform="translate(446.08 1774.72) scale(0.8868 1)" font-size="48.06">HRG</text>
</g>
<g id="panel-g">
<text transform="translate(645.77 1336.23) scale(1.0446 1)" font-size="62.93" font-weight="bold">g</text>
<text transform="translate(703.54 1679.97) rotate(-90) scale(1.0475 1)" font-size="45.99">Fibrin AUC</text>
<text transform="translate(756.43 1680.07) rotate(-90) scale(1.0650 1)" font-size="46.11">(arb. units)</text>
<g stroke="#000" fill="none">
<line x1="815.8" y1="1415" x2="815.8" y2="1709.5" stroke-width="4.4" stroke-linecap="round"/>
<line x1="806.8" y1="1709.5" x2="1226.6" y2="1709.5" stroke-width="4" stroke-linecap="round"/>
<line x1="806.8" y1="1612" x2="815.8" y2="1612" stroke-width="3.8" stroke-linecap="round"/>
<line x1="806.8" y1="1514.3" x2="815.8" y2="1514.3" stroke-width="3.8" stroke-linecap="round"/>
<line x1="806.8" y1="1416.6" x2="815.8" y2="1416.6" stroke-width="3.8" stroke-linecap="round"/>
<line x1="917.4" y1="1709.5" x2="917.4" y2="1719" stroke-width="3.8" stroke-linecap="round"/>
<line x1="1121.9" y1="1709.5" x2="1121.9" y2="1719" stroke-width="3.8" stroke-linecap="round"/>
<path d="M850.4 1709.5V1483.4H984.7V1709.5" fill="none" stroke-width="2.8"/>
<path d="M1055.3 1709.5V1501.7H1189.3V1709.5" fill="none" stroke-width="2.8" stroke="#0f870f"/>
<path d="M882 1477.6H953M882 1486.2H953M917.5 1477.6V1486.2" fill="none" stroke-width="2.4"/>
<path d="M1086.6 1494.4H1157.6M1086.6 1507.5H1157.6M1122.1 1494.4V1507.5" fill="none" stroke-width="2.4" stroke="#0f870f"/>
<path d="M922.6 1396H1123.2M922.6 1389.4V1402.6M1123.2 1389.4V1402.6" fill="none" stroke-width="1.6"/>
</g>
<g><circle cx="912.02" cy="1446.44" r="3.25"/><circle cx="889.91" cy="1463.66" r="3.25"/><circle cx="912.02" cy="1463.66" r="3.25"/><circle cx="922.82" cy="1464.17" r="3.25"/><circle cx="933.87" cy="1465.46" r="3.25"/><circle cx="944.92" cy="1465.46" r="3.25"/><circle cx="900.97" cy="1468.8" r="3.25"/><circle cx="922.82" cy="1470.6" r="3.25"/><circle cx="933.87" cy="1472.66" r="3.25"/><circle cx="944.92" cy="1471.88" r="3.25"/><circle cx="889.91" cy="1474.46" r="3.25"/><circle cx="900.97" cy="1475.23" r="3.25"/><circle cx="912.02" cy="1477.03" r="3.25"/><circle cx="922.82" cy="1477.03" r="3.25"/><circle cx="900.97" cy="1489.36" r="3.25"/><circle cx="912.02" cy="1492.45" r="3.25"/><circle cx="934.38" cy="1493.73" r="3.25"/><circle cx="900.97" cy="1501.7" r="3.25"/><circle cx="922.82" cy="1504.01" r="3.25"/><circle cx="933.87" cy="1502.73" r="3.25"/><circle cx="922.82" cy="1527.41" r="3.25"/><circle cx="912.02" cy="1533.57" r="3.25"/><circle cx="922.82" cy="1537.69" r="3.25"/><circle cx="912.02" cy="1543.34" r="3.25"/><circle cx="912.02" cy="1615.31" r="3.25"/><circle cx="933.87" cy="1484.22" r="3.25"/></g>
<g fill="#0f870f"><circle cx="1122.02" cy="1444.12" r="3.25"/><circle cx="1110.97" cy="1469.06" r="3.25"/><circle cx="1122.02" cy="1465.72" r="3.25"/><circle cx="1132.82" cy="1470.09" r="3.25"/><circle cx="1122.02" cy="1475.23" r="3.25"/><circle cx="1100.17" cy="1485.51" r="3.25"/><circle cx="1143.87" cy="1485.51" r="3.25"/><circle cx="1132.82" cy="1491.42" r="3.25"/><circle cx="1143.87" cy="1492.45" r="3.25"/><circle cx="1100.17" cy="1496.56" r="3.25"/><circle cx="1110.97" cy="1497.59" r="3.25"/><circle cx="1122.02" cy="1498.36" r="3.25"/><circle cx="1110.97" cy="1504.27" r="3.25"/><circle cx="1122.02" cy="1504.79" r="3.25"/><circle cx="1132.82" cy="1506.84" r="3.25"/><circle cx="1100.17" cy="1512.5" r="3.25"/><circle cx="1143.87" cy="1512.5" r="3.25"/><circle cx="1110.97" cy="1517.12" r="3.25"/><circle cx="1122.02" cy="1517.64" r="3.25"/><circle cx="1132.82" cy="1518.92" r="3.25"/><circle cx="1110.97" cy="1524.06" r="3.25"/><circle cx="1122.02" cy="1526.12" r="3.25"/><circle cx="1122.02" cy="1553.62" r="3.25"/><circle cx="1122.02" cy="1565.96" r="3.25"/><circle cx="1132.82" cy="1565.45" r="3.25"/><circle cx="1110.97" cy="1592.18" r="3.25"/><circle cx="1132.82" cy="1594.24" r="3.25"/><circle cx="1132.82" cy="1604.52" r="3.25"/><circle cx="1110.97" cy="1607.6" r="3.25"/></g>
<text transform="translate(763.47 1423.69) scale(0.9646 1)" font-size="21.2">10</text><text transform="translate(789.04 1417.86) scale(0.9216 1)" font-size="13.85">11</text>
<text transform="translate(763.47 1521.89) scale(0.9646 1)" font-size="21.2">10</text><text transform="translate(789.04 1516.06) scale(0.9216 1)" font-size="13.85">10</text>
<text transform="translate(770.97 1618.89) scale(0.9646 1)" font-size="21.2">10</text><text transform="translate(795.99 1613.06) scale(0.9216 1)" font-size="13.85">9</text>
<text transform="translate(770.97 1716.69) scale(0.9646 1)" font-size="21.2">10</text><text transform="translate(796.06 1710.86) scale(0.9216 1)" font-size="13.85">8</text>
<text transform="translate(983.73 1384.21) scale(0.9406 1)" font-size="28.55">0.0094</text>
<text x="897.29" y="1433.97" font-size="28.1">(26)</text>
<text x="1106.19" y="1433.97" font-size="28.1">(29)</text>
<text transform="translate(703.74 1765.4) scale(0.9396 1)" font-size="48.58">siRNA:</text>
<text transform="translate(882.05 1765.7) scale(0.9218 1)" font-size="49.75">Ctrl</text>
<text transform="translate(1071.92 1765.7) scale(0.9218 1)" font-size="49.75">HRG</text>
</g>
</svg>
</body>
</html>
